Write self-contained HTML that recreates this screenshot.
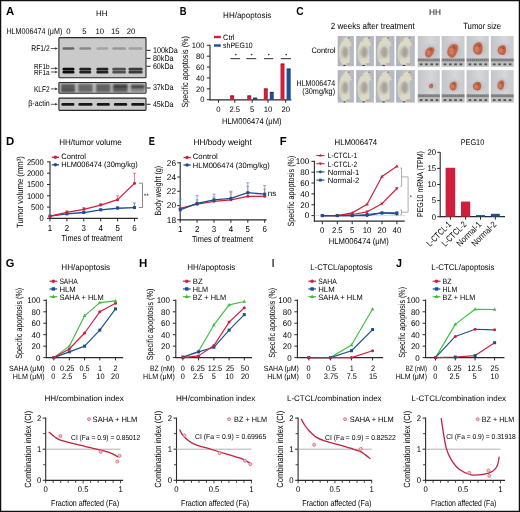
<!DOCTYPE html>
<html><head><meta charset="utf-8"><style>
html,body{margin:0;padding:0;background:#fff;overflow:hidden;}
svg{display:block;font-family:"Liberation Sans",sans-serif;text-rendering:geometricPrecision;will-change:transform;}

</style></head><body>
<svg width="520" height="512" viewBox="0 0 520 512">
<rect x="0" y="0" width="520" height="512" fill="#fff"/>
<defs><filter id="bl" x="-30%" y="-60%" width="160%" height="220%"><feGaussianBlur stdDeviation="0.55"/></filter><filter id="bl1" x="-30%" y="-60%" width="160%" height="220%"><feGaussianBlur stdDeviation="0.8"/></filter><filter id="bl2" x="-30%" y="-60%" width="160%" height="220%"><feGaussianBlur stdDeviation="1.1"/></filter><filter id="bl3" x="-30%" y="-30%" width="160%" height="160%"><feGaussianBlur stdDeviation="0.35"/></filter><linearGradient id="tbg" x1="0" y1="0" x2="1" y2="0"><stop offset="0" stop-color="#c2c4c8"/><stop offset="0.6" stop-color="#d6d7da"/><stop offset="1" stop-color="#c8c9cd"/></linearGradient><linearGradient id="mbg" x1="0" y1="0" x2="1" y2="0"><stop offset="0" stop-color="#aeb2be"/><stop offset="0.5" stop-color="#bcc0ca"/><stop offset="1" stop-color="#b4b8c4"/></linearGradient></defs>
<text x="5.90" y="14.50" font-size="11.5" textLength="8.20" lengthAdjust="spacingAndGlyphs" fill="#000" font-weight="bold" >A</text>
<text x="96.00" y="16.10" font-size="7.9" >HH</text>
<text x="6.40" y="33.60" font-size="8.3" textLength="55.90" lengthAdjust="spacingAndGlyphs" >HLM006474 (μM)</text>
<text x="68.50" y="33.60" font-size="8.0" text-anchor="middle" textLength="4.30" lengthAdjust="spacingAndGlyphs" >0</text>
<text x="84.40" y="33.60" font-size="8.0" text-anchor="middle" textLength="4.30" lengthAdjust="spacingAndGlyphs" >5</text>
<text x="99.70" y="33.60" font-size="8.0" text-anchor="middle" textLength="8.60" lengthAdjust="spacingAndGlyphs" >10</text>
<text x="115.30" y="33.60" font-size="8.0" text-anchor="middle" textLength="8.60" lengthAdjust="spacingAndGlyphs" >15</text>
<text x="131.10" y="33.60" font-size="8.0" text-anchor="middle" textLength="8.60" lengthAdjust="spacingAndGlyphs" >20</text>
<rect x="58.9" y="37.60" width="87.1" height="40.20" fill="#cacaca" stroke="#262626" stroke-width="1.1" rx="0.8"/>
<rect x="58.9" y="82.50" width="87.1" height="10.80" fill="#cacaca" stroke="#262626" stroke-width="1.1" rx="0.8"/>
<rect x="58.9" y="98.10" width="87.1" height="12.30" fill="#cacaca" stroke="#262626" stroke-width="1.1" rx="0.8"/>
<g filter="url(#bl)">
<rect x="62.50" y="47.30" width="11.90" height="2.50" fill="#6a6a6a" rx="1.2"/>
<rect x="79.30" y="47.30" width="11.90" height="2.50" fill="#8a8a8a" rx="1.2"/>
<rect x="96.40" y="47.30" width="12.00" height="2.50" fill="#a4a4a4" rx="1.2"/>
<rect x="112.30" y="47.30" width="13.60" height="2.50" fill="#989898" rx="1.2"/>
<rect x="128.50" y="47.30" width="14.10" height="2.50" fill="#a0a0a0" rx="1.2"/>
<rect x="62.50" y="67.70" width="11.90" height="2.70" fill="#101010" rx="1.2"/>
<rect x="62.50" y="70.70" width="11.90" height="2.70" fill="#101010" rx="1.2"/>
<rect x="79.30" y="67.70" width="11.90" height="2.70" fill="#242424" rx="1.2"/>
<rect x="79.30" y="70.70" width="11.90" height="2.70" fill="#242424" rx="1.2"/>
<rect x="96.40" y="67.70" width="12.00" height="2.70" fill="#242424" rx="1.2"/>
<rect x="96.40" y="70.70" width="12.00" height="2.70" fill="#242424" rx="1.2"/>
<rect x="112.30" y="67.70" width="13.60" height="2.70" fill="#505050" rx="1.2"/>
<rect x="112.30" y="70.70" width="13.60" height="2.70" fill="#505050" rx="1.2"/>
<rect x="128.50" y="67.70" width="14.10" height="2.70" fill="#3a3a3a" rx="1.2"/>
<rect x="128.50" y="70.70" width="14.10" height="2.70" fill="#3a3a3a" rx="1.2"/>
<rect x="61.40" y="103.10" width="13.00" height="2.60" fill="#181818" rx="1.2"/>
<rect x="78.40" y="103.10" width="14.10" height="2.60" fill="#181818" rx="1.2"/>
<rect x="96.70" y="103.10" width="13.10" height="2.60" fill="#181818" rx="1.2"/>
<rect x="113.90" y="103.10" width="13.30" height="2.60" fill="#181818" rx="1.2"/>
<rect x="131.20" y="103.10" width="13.40" height="2.60" fill="#181818" rx="1.2"/>
</g>
<g filter="url(#bl1)">
<rect x="60.80" y="83.80" width="14.40" height="8.60" fill="#5a5a5a" />
<rect x="78.00" y="83.80" width="14.80" height="8.60" fill="#686868" />
<rect x="95.80" y="83.80" width="14.80" height="8.60" fill="#626262" />
<rect x="112.80" y="83.80" width="15.00" height="8.60" fill="#5c5c5c" />
<rect x="130.40" y="83.80" width="14.40" height="8.60" fill="#8a8a8a" />
<rect x="113.00" y="85.00" width="14.50" height="3.00" fill="#3a3a3a" />
<rect x="131.00" y="85.40" width="13.50" height="2.80" fill="#2a2a2a" />
<rect x="60.80" y="89.50" width="14.40" height="2.50" fill="#4a4a4a" />
</g>
<text x="31.30" y="50.70" font-size="8.2" textLength="18.40" lengthAdjust="spacingAndGlyphs" >RF1/2</text>
<line x1="50.80" y1="48.50" x2="55.80" y2="48.50" stroke="#333" stroke-width="0.8" />
<polygon points="57.9,48.50 55.2,47.20 55.2,49.80" fill="#333"/>
<text x="33.90" y="69.00" font-size="7.4" textLength="15.80" lengthAdjust="spacingAndGlyphs" >RF1b</text>
<line x1="50.80" y1="68.40" x2="55.80" y2="68.40" stroke="#333" stroke-width="0.8" />
<polygon points="57.9,68.40 55.2,67.10 55.2,69.70" fill="#333"/>
<text x="33.90" y="75.40" font-size="7.4" textLength="15.80" lengthAdjust="spacingAndGlyphs" >RF1a</text>
<line x1="50.80" y1="72.00" x2="55.80" y2="72.00" stroke="#333" stroke-width="0.8" />
<polygon points="57.9,72.00 55.2,70.70 55.2,73.30" fill="#333"/>
<text x="33.90" y="91.50" font-size="8.2" textLength="15.80" lengthAdjust="spacingAndGlyphs" >KLF2</text>
<line x1="50.80" y1="88.90" x2="55.80" y2="88.90" stroke="#333" stroke-width="0.8" />
<polygon points="57.9,88.90 55.2,87.60 55.2,90.20" fill="#333"/>
<text x="28.30" y="106.00" font-size="8.2" textLength="21.40" lengthAdjust="spacingAndGlyphs" >β-actin</text>
<line x1="50.80" y1="104.30" x2="55.80" y2="104.30" stroke="#333" stroke-width="0.8" />
<polygon points="57.9,104.30 55.2,103.00 55.2,105.60" fill="#333"/>
<line x1="146.60" y1="50.40" x2="150.60" y2="50.40" stroke="#333" stroke-width="1.1" />
<text x="152.90" y="52.70" font-size="8.3" textLength="24.80" lengthAdjust="spacingAndGlyphs" >100kDa</text>
<line x1="146.60" y1="58.40" x2="150.60" y2="58.40" stroke="#333" stroke-width="1.1" />
<text x="152.90" y="60.80" font-size="8.3" textLength="20.60" lengthAdjust="spacingAndGlyphs" >80kDa</text>
<line x1="146.60" y1="66.30" x2="150.60" y2="66.30" stroke="#333" stroke-width="1.1" />
<text x="152.90" y="68.60" font-size="8.3" textLength="20.60" lengthAdjust="spacingAndGlyphs" >60kDa</text>
<line x1="146.60" y1="88.00" x2="150.60" y2="88.00" stroke="#333" stroke-width="1.1" />
<text x="152.90" y="90.40" font-size="8.3" textLength="20.60" lengthAdjust="spacingAndGlyphs" >37kDa</text>
<line x1="146.60" y1="104.30" x2="150.60" y2="104.30" stroke="#333" stroke-width="1.1" />
<text x="152.90" y="106.60" font-size="8.3" textLength="20.60" lengthAdjust="spacingAndGlyphs" >45kDa</text>
<text x="179.70" y="14.60" font-size="11.5" textLength="6.80" lengthAdjust="spacingAndGlyphs" fill="#000" font-weight="bold" >B</text>
<text x="223.10" y="17.80" font-size="8.2" textLength="48.10" lengthAdjust="spacingAndGlyphs" >HH/apoptosis</text>
<rect x="214.00" y="35.80" width="6.80" height="2.40" fill="#d01f3c" />
<text x="223.10" y="39.70" font-size="7.8" textLength="11.40" lengthAdjust="spacingAndGlyphs" >Ctrl</text>
<rect x="214.00" y="44.30" width="6.80" height="2.40" fill="#1c4f8f" />
<text x="223.10" y="47.50" font-size="7.8" textLength="29.60" lengthAdjust="spacingAndGlyphs" >shPEG10</text>
<line x1="210.00" y1="44.80" x2="210.00" y2="100.30" stroke="#2a2a2a" stroke-width="1.1" />
<line x1="209.50" y1="99.90" x2="291.40" y2="99.90" stroke="#2a2a2a" stroke-width="1.2" />
<line x1="206.80" y1="99.70" x2="210.00" y2="99.70" stroke="#2a2a2a" stroke-width="1.0" />
<text x="204.40" y="102.40" font-size="8.0" text-anchor="end" textLength="4.20" lengthAdjust="spacingAndGlyphs" >0</text>
<line x1="206.80" y1="88.82" x2="210.00" y2="88.82" stroke="#2a2a2a" stroke-width="1.0" />
<text x="204.40" y="91.52" font-size="8.0" text-anchor="end" textLength="8.40" lengthAdjust="spacingAndGlyphs" >20</text>
<line x1="206.80" y1="77.94" x2="210.00" y2="77.94" stroke="#2a2a2a" stroke-width="1.0" />
<text x="204.40" y="80.64" font-size="8.0" text-anchor="end" textLength="8.40" lengthAdjust="spacingAndGlyphs" >40</text>
<line x1="206.80" y1="67.06" x2="210.00" y2="67.06" stroke="#2a2a2a" stroke-width="1.0" />
<text x="204.40" y="69.76" font-size="8.0" text-anchor="end" textLength="8.40" lengthAdjust="spacingAndGlyphs" >60</text>
<line x1="206.80" y1="56.18" x2="210.00" y2="56.18" stroke="#2a2a2a" stroke-width="1.0" />
<text x="204.40" y="58.88" font-size="8.0" text-anchor="end" textLength="8.40" lengthAdjust="spacingAndGlyphs" >80</text>
<line x1="206.80" y1="45.30" x2="210.00" y2="45.30" stroke="#2a2a2a" stroke-width="1.0" />
<text x="204.40" y="48.00" font-size="8.0" text-anchor="end" textLength="12.60" lengthAdjust="spacingAndGlyphs" >100</text>
<line x1="218.50" y1="100.00" x2="218.50" y2="102.80" stroke="#2a2a2a" stroke-width="1.0" />
<text x="218.50" y="112.00" font-size="8.0" text-anchor="middle" textLength="4.30" lengthAdjust="spacingAndGlyphs" >0</text>
<line x1="234.80" y1="100.00" x2="234.80" y2="102.80" stroke="#2a2a2a" stroke-width="1.0" />
<text x="234.80" y="112.00" font-size="8.0" text-anchor="middle" textLength="10.60" lengthAdjust="spacingAndGlyphs" >2.5</text>
<line x1="252.20" y1="100.00" x2="252.20" y2="102.80" stroke="#2a2a2a" stroke-width="1.0" />
<text x="252.20" y="112.00" font-size="8.0" text-anchor="middle" textLength="4.30" lengthAdjust="spacingAndGlyphs" >5</text>
<line x1="268.00" y1="100.00" x2="268.00" y2="102.80" stroke="#2a2a2a" stroke-width="1.0" />
<text x="268.00" y="112.00" font-size="8.0" text-anchor="middle" textLength="8.60" lengthAdjust="spacingAndGlyphs" >10</text>
<line x1="285.70" y1="100.00" x2="285.70" y2="102.80" stroke="#2a2a2a" stroke-width="1.0" />
<text x="285.70" y="112.00" font-size="8.0" text-anchor="middle" textLength="8.60" lengthAdjust="spacingAndGlyphs" >20</text>
<rect x="230.10" y="95.60" width="4.10" height="4.30" fill="#d01f3c" />
<line x1="230.40" y1="95.90" x2="233.90" y2="95.90" stroke="#5a1420" stroke-width="0.8" />
<rect x="247.20" y="95.60" width="4.00" height="4.30" fill="#d01f3c" />
<line x1="247.50" y1="95.90" x2="250.90" y2="95.90" stroke="#5a1420" stroke-width="0.8" />
<rect x="253.00" y="97.80" width="4.30" height="2.10" fill="#1c4f8f" />
<line x1="253.30" y1="98.10" x2="257.00" y2="98.10" stroke="#10284a" stroke-width="0.8" />
<rect x="263.80" y="88.60" width="4.00" height="11.30" fill="#d01f3c" />
<line x1="264.10" y1="88.90" x2="267.50" y2="88.90" stroke="#5a1420" stroke-width="0.8" />
<rect x="269.80" y="92.00" width="3.90" height="7.90" fill="#1c4f8f" />
<line x1="270.10" y1="92.30" x2="273.40" y2="92.30" stroke="#10284a" stroke-width="0.8" />
<rect x="280.50" y="63.70" width="4.00" height="36.20" fill="#d01f3c" />
<line x1="280.80" y1="64.00" x2="284.20" y2="64.00" stroke="#5a1420" stroke-width="0.8" />
<rect x="286.60" y="68.70" width="4.10" height="31.20" fill="#1c4f8f" />
<line x1="286.90" y1="69.00" x2="290.40" y2="69.00" stroke="#10284a" stroke-width="0.8" />
<line x1="230.40" y1="58.60" x2="240.10" y2="58.60" stroke="#505050" stroke-width="1.2" />
<circle cx="235.80" cy="54.5" r="0.85" fill="#333"/>
<line x1="246.30" y1="58.60" x2="256.20" y2="58.60" stroke="#505050" stroke-width="1.2" />
<circle cx="251.60" cy="54.5" r="0.85" fill="#333"/>
<line x1="264.00" y1="58.60" x2="273.20" y2="58.60" stroke="#505050" stroke-width="1.2" />
<circle cx="268.70" cy="54.5" r="0.85" fill="#333"/>
<line x1="280.90" y1="58.60" x2="291.00" y2="58.60" stroke="#505050" stroke-width="1.2" />
<circle cx="286.20" cy="54.5" r="0.85" fill="#333"/>
<text x="188.39" y="71.85" font-size="9.0" text-anchor="middle" textLength="71.50" lengthAdjust="spacingAndGlyphs" transform="rotate(-90 188.39 71.85)" >Specific apoptosis (%)</text>
<text x="222.10" y="123.50" font-size="8.5" textLength="59.50" lengthAdjust="spacingAndGlyphs" >HLM006474 (μM)</text>
<text x="296.30" y="15.00" font-size="11.5" textLength="7.40" lengthAdjust="spacingAndGlyphs" fill="#000" font-weight="bold" >C</text>
<text x="428.90" y="14.80" font-size="8.3" >HH</text>
<text x="330.70" y="28.60" font-size="9.0" textLength="84.00" lengthAdjust="spacingAndGlyphs" >2 weeks after treatment</text>
<text x="463.20" y="28.60" font-size="9.0" textLength="37.90" lengthAdjust="spacingAndGlyphs" >Tumor size</text>
<text x="311.40" y="52.90" font-size="8.0" textLength="24.10" lengthAdjust="spacingAndGlyphs" >Control</text>
<text x="296.60" y="85.60" font-size="8.3" textLength="38.50" lengthAdjust="spacingAndGlyphs" >HLM006474</text>
<text x="302.30" y="94.00" font-size="8.3" textLength="32.80" lengthAdjust="spacingAndGlyphs" >(30mg/kg)</text>
<rect x="337.70" y="36.00" width="16.20" height="30.20" fill="url(#mbg)"/>
<path d="M 342.56,40.23 C 344.50,37.81 346.61,36.60 348.39,37.21 C 349.69,38.11 349.36,40.23 349.04,41.44 C 350.66,42.04 352.60,43.25 352.28,44.76 C 351.63,45.66 350.01,45.06 349.36,46.27 C 349.04,51.10 350.01,57.74 349.69,61.97 C 349.36,64.69 346.61,65.29 343.53,64.99 C 340.29,63.18 338.67,57.14 339.00,51.70 C 339.32,46.87 340.62,42.64 342.56,40.23 Z" fill="#dadac6" filter="url(#bl3)"/>
<ellipse cx="340.62" cy="54.72" rx="1.30" ry="6.04" fill="#c4c4b0" opacity="0.7" filter="url(#bl1)"/>
<ellipse cx="345.15" cy="52.31" rx="3.08" ry="5.74" fill="#9a9090" opacity="0.75" filter="url(#bl1)"/>
<ellipse cx="348.39" cy="64.09" rx="2.59" ry="0.76" fill="#c8a08c" filter="url(#bl)"/>
<ellipse cx="344.50" cy="65.45" rx="1.30" ry="0.60" fill="#404040" filter="url(#bl)"/>
<ellipse cx="341.91" cy="40.53" rx="1.62" ry="0.91" fill="#d8b498" filter="url(#bl)"/>
<ellipse cx="348.72" cy="38.11" rx="1.13" ry="1.06" fill="#a8948a" filter="url(#bl)"/>
<ellipse cx="351.96" cy="43.85" rx="1.30" ry="0.76" fill="#d0a488" filter="url(#bl)"/>
<rect x="356.20" y="36.00" width="17.70" height="30.20" fill="url(#mbg)"/>
<path d="M 362.39,40.23 C 364.52,37.81 366.82,36.60 368.77,37.21 C 370.18,38.11 369.83,40.23 368.59,41.44 C 370.36,42.04 372.48,43.25 372.13,44.76 C 371.42,45.66 369.65,45.06 368.94,46.27 C 368.59,51.10 369.65,57.74 369.30,61.97 C 368.94,64.69 365.94,65.29 362.57,64.99 C 359.03,63.18 357.26,57.14 357.62,51.70 C 357.97,46.87 359.39,42.64 362.39,40.23 Z" fill="#dadac6" filter="url(#bl3)"/>
<ellipse cx="359.39" cy="54.72" rx="1.42" ry="6.04" fill="#c4c4b0" opacity="0.7" filter="url(#bl1)"/>
<ellipse cx="364.34" cy="52.31" rx="3.36" ry="5.74" fill="#9a9090" opacity="0.75" filter="url(#bl1)"/>
<ellipse cx="367.88" cy="64.09" rx="2.83" ry="0.76" fill="#c8a08c" filter="url(#bl)"/>
<ellipse cx="363.63" cy="65.45" rx="1.42" ry="0.60" fill="#404040" filter="url(#bl)"/>
<ellipse cx="361.69" cy="40.53" rx="1.77" ry="0.91" fill="#d8b498" filter="url(#bl)"/>
<ellipse cx="369.12" cy="38.11" rx="1.24" ry="1.06" fill="#a8948a" filter="url(#bl)"/>
<ellipse cx="371.78" cy="43.85" rx="1.42" ry="0.76" fill="#d0a488" filter="url(#bl)"/>
<rect x="375.80" y="36.00" width="18.60" height="30.20" fill="url(#mbg)"/>
<path d="M 381.01,40.23 C 383.24,37.81 385.66,36.60 387.70,37.21 C 389.19,38.11 388.82,40.23 388.82,41.44 C 390.68,42.04 392.91,43.25 392.54,44.76 C 391.80,45.66 389.94,45.06 389.19,46.27 C 388.82,51.10 389.94,57.74 389.56,61.97 C 389.19,64.69 386.03,65.29 382.50,64.99 C 378.78,63.18 376.92,57.14 377.29,51.70 C 377.66,46.87 379.15,42.64 381.01,40.23 Z" fill="#dadac6" filter="url(#bl3)"/>
<ellipse cx="379.15" cy="54.72" rx="1.49" ry="6.04" fill="#c4c4b0" opacity="0.7" filter="url(#bl1)"/>
<ellipse cx="384.36" cy="52.31" rx="3.53" ry="5.74" fill="#9a9090" opacity="0.75" filter="url(#bl1)"/>
<ellipse cx="388.08" cy="64.09" rx="2.98" ry="0.76" fill="#c8a08c" filter="url(#bl)"/>
<ellipse cx="383.61" cy="65.45" rx="1.49" ry="0.60" fill="#404040" filter="url(#bl)"/>
<ellipse cx="380.26" cy="40.53" rx="1.86" ry="0.91" fill="#d8b498" filter="url(#bl)"/>
<ellipse cx="388.08" cy="38.11" rx="1.30" ry="1.06" fill="#a8948a" filter="url(#bl)"/>
<ellipse cx="392.17" cy="43.85" rx="1.49" ry="0.76" fill="#d0a488" filter="url(#bl)"/>
<rect x="396.10" y="36.00" width="18.70" height="30.20" fill="url(#mbg)"/>
<path d="M 402.46,40.23 C 404.70,37.81 407.13,36.60 409.19,37.21 C 410.69,38.11 410.31,40.23 409.19,41.44 C 411.06,42.04 413.30,43.25 412.93,44.76 C 412.18,45.66 410.31,45.06 409.56,46.27 C 409.19,51.10 410.31,57.74 409.94,61.97 C 409.56,64.69 406.38,65.29 402.83,64.99 C 399.09,63.18 397.22,57.14 397.60,51.70 C 397.97,46.87 399.47,42.64 402.46,40.23 Z" fill="#dadac6" filter="url(#bl3)"/>
<ellipse cx="399.47" cy="54.72" rx="1.50" ry="6.04" fill="#c4c4b0" opacity="0.7" filter="url(#bl1)"/>
<ellipse cx="404.70" cy="52.31" rx="3.55" ry="5.74" fill="#9a9090" opacity="0.75" filter="url(#bl1)"/>
<ellipse cx="408.44" cy="64.09" rx="2.99" ry="0.76" fill="#c8a08c" filter="url(#bl)"/>
<ellipse cx="403.95" cy="65.45" rx="1.50" ry="0.60" fill="#404040" filter="url(#bl)"/>
<ellipse cx="401.71" cy="40.53" rx="1.87" ry="0.91" fill="#d8b498" filter="url(#bl)"/>
<ellipse cx="409.56" cy="38.11" rx="1.31" ry="1.06" fill="#a8948a" filter="url(#bl)"/>
<ellipse cx="412.56" cy="43.85" rx="1.50" ry="0.76" fill="#d0a488" filter="url(#bl)"/>
<rect x="337.70" y="70.10" width="16.20" height="32.50" fill="url(#mbg)"/>
<path d="M 342.56,74.65 C 344.50,72.05 346.61,70.75 348.39,71.40 C 349.69,72.38 349.36,74.65 349.04,75.95 C 350.66,76.60 352.60,77.90 352.28,79.52 C 351.63,80.50 350.01,79.85 349.36,81.15 C 349.04,86.35 350.01,93.50 349.69,98.05 C 349.36,100.97 346.61,101.62 343.53,101.30 C 340.29,99.35 338.67,92.85 339.00,87.00 C 339.32,81.80 340.62,77.25 342.56,74.65 Z" fill="#dadac6" filter="url(#bl3)"/>
<ellipse cx="340.62" cy="90.25" rx="1.30" ry="6.50" fill="#c4c4b0" opacity="0.7" filter="url(#bl1)"/>
<ellipse cx="345.15" cy="87.65" rx="3.08" ry="6.17" fill="#9a9090" opacity="0.75" filter="url(#bl1)"/>
<ellipse cx="348.39" cy="100.32" rx="2.59" ry="0.81" fill="#c8a08c" filter="url(#bl)"/>
<ellipse cx="344.50" cy="101.79" rx="1.30" ry="0.65" fill="#404040" filter="url(#bl)"/>
<ellipse cx="341.91" cy="74.97" rx="1.62" ry="0.97" fill="#d8b498" filter="url(#bl)"/>
<ellipse cx="348.72" cy="72.38" rx="1.13" ry="1.14" fill="#a8948a" filter="url(#bl)"/>
<ellipse cx="351.96" cy="78.55" rx="1.30" ry="0.81" fill="#d0a488" filter="url(#bl)"/>
<rect x="356.20" y="70.10" width="17.70" height="32.50" fill="url(#mbg)"/>
<path d="M 362.39,74.65 C 364.52,72.05 366.82,70.75 368.77,71.40 C 370.18,72.38 369.83,74.65 368.59,75.95 C 370.36,76.60 372.48,77.90 372.13,79.52 C 371.42,80.50 369.65,79.85 368.94,81.15 C 368.59,86.35 369.65,93.50 369.30,98.05 C 368.94,100.97 365.94,101.62 362.57,101.30 C 359.03,99.35 357.26,92.85 357.62,87.00 C 357.97,81.80 359.39,77.25 362.39,74.65 Z" fill="#dadac6" filter="url(#bl3)"/>
<ellipse cx="359.39" cy="90.25" rx="1.42" ry="6.50" fill="#c4c4b0" opacity="0.7" filter="url(#bl1)"/>
<ellipse cx="364.34" cy="87.65" rx="3.36" ry="6.17" fill="#9a9090" opacity="0.75" filter="url(#bl1)"/>
<ellipse cx="367.88" cy="100.32" rx="2.83" ry="0.81" fill="#c8a08c" filter="url(#bl)"/>
<ellipse cx="363.63" cy="101.79" rx="1.42" ry="0.65" fill="#404040" filter="url(#bl)"/>
<ellipse cx="361.69" cy="74.97" rx="1.77" ry="0.97" fill="#d8b498" filter="url(#bl)"/>
<ellipse cx="369.12" cy="72.38" rx="1.24" ry="1.14" fill="#a8948a" filter="url(#bl)"/>
<ellipse cx="371.78" cy="78.55" rx="1.42" ry="0.81" fill="#d0a488" filter="url(#bl)"/>
<rect x="375.80" y="70.10" width="18.60" height="32.50" fill="url(#mbg)"/>
<path d="M 381.01,74.65 C 383.24,72.05 385.66,70.75 387.70,71.40 C 389.19,72.38 388.82,74.65 388.82,75.95 C 390.68,76.60 392.91,77.90 392.54,79.52 C 391.80,80.50 389.94,79.85 389.19,81.15 C 388.82,86.35 389.94,93.50 389.56,98.05 C 389.19,100.97 386.03,101.62 382.50,101.30 C 378.78,99.35 376.92,92.85 377.29,87.00 C 377.66,81.80 379.15,77.25 381.01,74.65 Z" fill="#dadac6" filter="url(#bl3)"/>
<ellipse cx="379.15" cy="90.25" rx="1.49" ry="6.50" fill="#c4c4b0" opacity="0.7" filter="url(#bl1)"/>
<ellipse cx="384.36" cy="87.65" rx="3.53" ry="6.17" fill="#9a9090" opacity="0.75" filter="url(#bl1)"/>
<ellipse cx="388.08" cy="100.32" rx="2.98" ry="0.81" fill="#c8a08c" filter="url(#bl)"/>
<ellipse cx="383.61" cy="101.79" rx="1.49" ry="0.65" fill="#404040" filter="url(#bl)"/>
<ellipse cx="380.26" cy="74.97" rx="1.86" ry="0.97" fill="#d8b498" filter="url(#bl)"/>
<ellipse cx="388.08" cy="72.38" rx="1.30" ry="1.14" fill="#a8948a" filter="url(#bl)"/>
<ellipse cx="392.17" cy="78.55" rx="1.49" ry="0.81" fill="#d0a488" filter="url(#bl)"/>
<rect x="396.10" y="70.10" width="18.70" height="32.50" fill="url(#mbg)"/>
<path d="M 402.46,74.65 C 404.70,72.05 407.13,70.75 409.19,71.40 C 410.69,72.38 410.31,74.65 409.19,75.95 C 411.06,76.60 413.30,77.90 412.93,79.52 C 412.18,80.50 410.31,79.85 409.56,81.15 C 409.19,86.35 410.31,93.50 409.94,98.05 C 409.56,100.97 406.38,101.62 402.83,101.30 C 399.09,99.35 397.22,92.85 397.60,87.00 C 397.97,81.80 399.47,77.25 402.46,74.65 Z" fill="#dadac6" filter="url(#bl3)"/>
<ellipse cx="399.47" cy="90.25" rx="1.50" ry="6.50" fill="#c4c4b0" opacity="0.7" filter="url(#bl1)"/>
<ellipse cx="404.70" cy="87.65" rx="3.55" ry="6.17" fill="#9a9090" opacity="0.75" filter="url(#bl1)"/>
<ellipse cx="408.44" cy="100.32" rx="2.99" ry="0.81" fill="#c8a08c" filter="url(#bl)"/>
<ellipse cx="403.95" cy="101.79" rx="1.50" ry="0.65" fill="#404040" filter="url(#bl)"/>
<ellipse cx="401.71" cy="74.97" rx="1.87" ry="0.97" fill="#d8b498" filter="url(#bl)"/>
<ellipse cx="409.56" cy="72.38" rx="1.31" ry="1.14" fill="#a8948a" filter="url(#bl)"/>
<ellipse cx="412.56" cy="78.55" rx="1.50" ry="0.81" fill="#d0a488" filter="url(#bl)"/>
<rect x="417.80" y="36.00" width="22.00" height="30.60" fill="url(#tbg)"/>
<rect x="417.80" y="58.60" width="22.00" height="3.00" fill="#767676" />
<rect x="418.60" y="59.20" width="0.50" height="1.80" fill="#a8a8a8" />
<rect x="420.60" y="59.20" width="0.50" height="1.80" fill="#a8a8a8" />
<rect x="422.60" y="59.20" width="0.50" height="1.80" fill="#a8a8a8" />
<rect x="424.60" y="59.20" width="0.50" height="1.80" fill="#a8a8a8" />
<rect x="426.60" y="59.20" width="0.50" height="1.80" fill="#a8a8a8" />
<rect x="428.60" y="59.20" width="0.50" height="1.80" fill="#a8a8a8" />
<rect x="430.60" y="59.20" width="0.50" height="1.80" fill="#a8a8a8" />
<rect x="432.60" y="59.20" width="0.50" height="1.80" fill="#a8a8a8" />
<rect x="434.60" y="59.20" width="0.50" height="1.80" fill="#a8a8a8" />
<rect x="436.60" y="59.20" width="0.50" height="1.80" fill="#a8a8a8" />
<rect x="438.60" y="59.20" width="0.50" height="1.80" fill="#a8a8a8" />
<rect x="417.80" y="61.60" width="22.00" height="5.00" fill="#bebebe" />
<rect x="419.80" y="63.40" width="2.60" height="1.80" fill="#4e4e4e" filter="url(#bl3)"/>
<rect x="425.10" y="63.40" width="2.60" height="1.80" fill="#4e4e4e" filter="url(#bl3)"/>
<rect x="430.40" y="63.40" width="2.60" height="1.80" fill="#4e4e4e" filter="url(#bl3)"/>
<rect x="435.70" y="63.40" width="2.60" height="1.80" fill="#4e4e4e" filter="url(#bl3)"/>
<ellipse cx="430.70" cy="52.00" rx="6.30" ry="7.50" fill="#b4b4b8" opacity="0.5" filter="url(#bl2)"/>
<path d="M 425.63 53.20 C 425.20 48.40 428.64 45.70 431.65 46.60 C 434.23 48.40 433.80 55.00 432.08 57.10 C 429.93 58.60 426.06 57.40 425.63 53.20 Z" fill="#c26444" transform="rotate(30 429.5 52)" filter="url(#bl3)"/>
<ellipse cx="428.64" cy="52.60" rx="1.94" ry="2.70" fill="#dc9472" opacity="0.55" filter="url(#bl)"/>
<ellipse cx="430.79" cy="49.60" rx="1.29" ry="1.50" fill="#a84a30" opacity="0.6" filter="url(#bl)"/>
<rect x="441.70" y="36.00" width="22.80" height="30.60" fill="url(#tbg)"/>
<rect x="441.70" y="58.60" width="22.80" height="3.00" fill="#767676" />
<rect x="442.50" y="59.20" width="0.50" height="1.80" fill="#a8a8a8" />
<rect x="444.50" y="59.20" width="0.50" height="1.80" fill="#a8a8a8" />
<rect x="446.50" y="59.20" width="0.50" height="1.80" fill="#a8a8a8" />
<rect x="448.50" y="59.20" width="0.50" height="1.80" fill="#a8a8a8" />
<rect x="450.50" y="59.20" width="0.50" height="1.80" fill="#a8a8a8" />
<rect x="452.50" y="59.20" width="0.50" height="1.80" fill="#a8a8a8" />
<rect x="454.50" y="59.20" width="0.50" height="1.80" fill="#a8a8a8" />
<rect x="456.50" y="59.20" width="0.50" height="1.80" fill="#a8a8a8" />
<rect x="458.50" y="59.20" width="0.50" height="1.80" fill="#a8a8a8" />
<rect x="460.50" y="59.20" width="0.50" height="1.80" fill="#a8a8a8" />
<rect x="462.50" y="59.20" width="0.50" height="1.80" fill="#a8a8a8" />
<rect x="441.70" y="61.60" width="22.80" height="5.00" fill="#bebebe" />
<rect x="443.70" y="63.40" width="2.60" height="1.80" fill="#4e4e4e" filter="url(#bl3)"/>
<rect x="449.00" y="63.40" width="2.60" height="1.80" fill="#4e4e4e" filter="url(#bl3)"/>
<rect x="454.30" y="63.40" width="2.60" height="1.80" fill="#4e4e4e" filter="url(#bl3)"/>
<rect x="459.60" y="63.40" width="2.60" height="1.80" fill="#4e4e4e" filter="url(#bl3)"/>
<ellipse cx="453.70" cy="50.50" rx="7.30" ry="9.00" fill="#b4b4b8" opacity="0.5" filter="url(#bl2)"/>
<path d="M 447.73 52.00 C 447.20 46.00 451.44 42.62 455.15 43.75 C 458.33 46.00 457.80 54.25 455.68 56.88 C 453.03 58.75 448.26 57.25 447.73 52.00 Z" fill="#c26444" transform="rotate(20 452.5 50.5)" filter="url(#bl3)"/>
<ellipse cx="451.44" cy="51.25" rx="2.38" ry="3.38" fill="#dc9472" opacity="0.55" filter="url(#bl)"/>
<ellipse cx="454.09" cy="47.50" rx="1.59" ry="1.88" fill="#a84a30" opacity="0.6" filter="url(#bl)"/>
<rect x="466.60" y="36.00" width="22.10" height="30.60" fill="url(#tbg)"/>
<rect x="466.60" y="58.60" width="22.10" height="3.00" fill="#767676" />
<rect x="467.40" y="59.20" width="0.50" height="1.80" fill="#a8a8a8" />
<rect x="469.40" y="59.20" width="0.50" height="1.80" fill="#a8a8a8" />
<rect x="471.40" y="59.20" width="0.50" height="1.80" fill="#a8a8a8" />
<rect x="473.40" y="59.20" width="0.50" height="1.80" fill="#a8a8a8" />
<rect x="475.40" y="59.20" width="0.50" height="1.80" fill="#a8a8a8" />
<rect x="477.40" y="59.20" width="0.50" height="1.80" fill="#a8a8a8" />
<rect x="479.40" y="59.20" width="0.50" height="1.80" fill="#a8a8a8" />
<rect x="481.40" y="59.20" width="0.50" height="1.80" fill="#a8a8a8" />
<rect x="483.40" y="59.20" width="0.50" height="1.80" fill="#a8a8a8" />
<rect x="485.40" y="59.20" width="0.50" height="1.80" fill="#a8a8a8" />
<rect x="487.40" y="59.20" width="0.50" height="1.80" fill="#a8a8a8" />
<rect x="466.60" y="61.60" width="22.10" height="5.00" fill="#bebebe" />
<rect x="468.60" y="63.40" width="2.60" height="1.80" fill="#4e4e4e" filter="url(#bl3)"/>
<rect x="473.90" y="63.40" width="2.60" height="1.80" fill="#4e4e4e" filter="url(#bl3)"/>
<rect x="479.20" y="63.40" width="2.60" height="1.80" fill="#4e4e4e" filter="url(#bl3)"/>
<rect x="484.50" y="63.40" width="2.60" height="1.80" fill="#4e4e4e" filter="url(#bl3)"/>
<ellipse cx="479.00" cy="48.50" rx="7.20" ry="8.10" fill="#b4b4b8" opacity="0.5" filter="url(#bl2)"/>
<path d="M 473.12 49.82 C 472.60 44.54 476.76 41.57 480.40 42.56 C 483.52 44.54 483.00 51.80 480.92 54.11 C 478.32 55.76 473.64 54.44 473.12 49.82 Z" fill="#c26444" transform="rotate(0 477.8 48.5)" filter="url(#bl3)"/>
<ellipse cx="476.76" cy="49.16" rx="2.34" ry="2.97" fill="#dc9472" opacity="0.55" filter="url(#bl)"/>
<ellipse cx="479.36" cy="45.86" rx="1.56" ry="1.65" fill="#a84a30" opacity="0.6" filter="url(#bl)"/>
<rect x="490.90" y="36.00" width="22.70" height="30.60" fill="url(#tbg)"/>
<rect x="490.90" y="58.60" width="22.70" height="3.00" fill="#767676" />
<rect x="491.70" y="59.20" width="0.50" height="1.80" fill="#a8a8a8" />
<rect x="493.70" y="59.20" width="0.50" height="1.80" fill="#a8a8a8" />
<rect x="495.70" y="59.20" width="0.50" height="1.80" fill="#a8a8a8" />
<rect x="497.70" y="59.20" width="0.50" height="1.80" fill="#a8a8a8" />
<rect x="499.70" y="59.20" width="0.50" height="1.80" fill="#a8a8a8" />
<rect x="501.70" y="59.20" width="0.50" height="1.80" fill="#a8a8a8" />
<rect x="503.70" y="59.20" width="0.50" height="1.80" fill="#a8a8a8" />
<rect x="505.70" y="59.20" width="0.50" height="1.80" fill="#a8a8a8" />
<rect x="507.70" y="59.20" width="0.50" height="1.80" fill="#a8a8a8" />
<rect x="509.70" y="59.20" width="0.50" height="1.80" fill="#a8a8a8" />
<rect x="511.70" y="59.20" width="0.50" height="1.80" fill="#a8a8a8" />
<rect x="490.90" y="61.60" width="22.70" height="5.00" fill="#bebebe" />
<rect x="492.90" y="63.40" width="2.60" height="1.80" fill="#4e4e4e" filter="url(#bl3)"/>
<rect x="498.20" y="63.40" width="2.60" height="1.80" fill="#4e4e4e" filter="url(#bl3)"/>
<rect x="503.50" y="63.40" width="2.60" height="1.80" fill="#4e4e4e" filter="url(#bl3)"/>
<rect x="508.80" y="63.40" width="2.60" height="1.80" fill="#4e4e4e" filter="url(#bl3)"/>
<ellipse cx="503.00" cy="50.00" rx="6.60" ry="6.70" fill="#b4b4b8" opacity="0.5" filter="url(#bl2)"/>
<path d="M 497.66 51.04 C 497.20 46.88 500.88 44.54 504.10 45.32 C 506.86 46.88 506.40 52.60 504.56 54.42 C 502.26 55.72 498.12 54.68 497.66 51.04 Z" fill="#c26444" transform="rotate(0 501.8 50)" filter="url(#bl3)"/>
<ellipse cx="500.88" cy="50.52" rx="2.07" ry="2.34" fill="#dc9472" opacity="0.55" filter="url(#bl)"/>
<ellipse cx="503.18" cy="47.92" rx="1.38" ry="1.30" fill="#a84a30" opacity="0.6" filter="url(#bl)"/>
<rect x="417.80" y="70.10" width="22.00" height="32.30" fill="url(#tbg)"/>
<rect x="417.80" y="94.40" width="22.00" height="3.00" fill="#767676" />
<rect x="418.60" y="95.00" width="0.50" height="1.80" fill="#a8a8a8" />
<rect x="420.60" y="95.00" width="0.50" height="1.80" fill="#a8a8a8" />
<rect x="422.60" y="95.00" width="0.50" height="1.80" fill="#a8a8a8" />
<rect x="424.60" y="95.00" width="0.50" height="1.80" fill="#a8a8a8" />
<rect x="426.60" y="95.00" width="0.50" height="1.80" fill="#a8a8a8" />
<rect x="428.60" y="95.00" width="0.50" height="1.80" fill="#a8a8a8" />
<rect x="430.60" y="95.00" width="0.50" height="1.80" fill="#a8a8a8" />
<rect x="432.60" y="95.00" width="0.50" height="1.80" fill="#a8a8a8" />
<rect x="434.60" y="95.00" width="0.50" height="1.80" fill="#a8a8a8" />
<rect x="436.60" y="95.00" width="0.50" height="1.80" fill="#a8a8a8" />
<rect x="438.60" y="95.00" width="0.50" height="1.80" fill="#a8a8a8" />
<rect x="417.80" y="97.40" width="22.00" height="5.00" fill="#bebebe" />
<rect x="419.80" y="99.20" width="2.60" height="1.80" fill="#4e4e4e" filter="url(#bl3)"/>
<rect x="425.10" y="99.20" width="2.60" height="1.80" fill="#4e4e4e" filter="url(#bl3)"/>
<rect x="430.40" y="99.20" width="2.60" height="1.80" fill="#4e4e4e" filter="url(#bl3)"/>
<rect x="435.70" y="99.20" width="2.60" height="1.80" fill="#4e4e4e" filter="url(#bl3)"/>
<ellipse cx="432.20" cy="86.00" rx="4.30" ry="3.90" fill="#b4b4b8" opacity="0.5" filter="url(#bl2)"/>
<path d="M 428.93 86.48 C 428.70 84.56 430.54 83.48 432.15 83.84 C 433.53 84.56 433.30 87.20 432.38 88.04 C 431.23 88.64 429.16 88.16 428.93 86.48 Z" fill="#c26444" transform="rotate(0 431 86)" filter="url(#bl3)"/>
<ellipse cx="430.54" cy="86.24" rx="1.03" ry="1.08" fill="#dc9472" opacity="0.55" filter="url(#bl)"/>
<ellipse cx="431.69" cy="85.04" rx="0.69" ry="0.60" fill="#a84a30" opacity="0.6" filter="url(#bl)"/>
<rect x="441.70" y="70.10" width="22.80" height="32.30" fill="url(#tbg)"/>
<rect x="441.70" y="94.40" width="22.80" height="3.00" fill="#767676" />
<rect x="442.50" y="95.00" width="0.50" height="1.80" fill="#a8a8a8" />
<rect x="444.50" y="95.00" width="0.50" height="1.80" fill="#a8a8a8" />
<rect x="446.50" y="95.00" width="0.50" height="1.80" fill="#a8a8a8" />
<rect x="448.50" y="95.00" width="0.50" height="1.80" fill="#a8a8a8" />
<rect x="450.50" y="95.00" width="0.50" height="1.80" fill="#a8a8a8" />
<rect x="452.50" y="95.00" width="0.50" height="1.80" fill="#a8a8a8" />
<rect x="454.50" y="95.00" width="0.50" height="1.80" fill="#a8a8a8" />
<rect x="456.50" y="95.00" width="0.50" height="1.80" fill="#a8a8a8" />
<rect x="458.50" y="95.00" width="0.50" height="1.80" fill="#a8a8a8" />
<rect x="460.50" y="95.00" width="0.50" height="1.80" fill="#a8a8a8" />
<rect x="462.50" y="95.00" width="0.50" height="1.80" fill="#a8a8a8" />
<rect x="441.70" y="97.40" width="22.80" height="5.00" fill="#bebebe" />
<rect x="443.70" y="99.20" width="2.60" height="1.80" fill="#4e4e4e" filter="url(#bl3)"/>
<rect x="449.00" y="99.20" width="2.60" height="1.80" fill="#4e4e4e" filter="url(#bl3)"/>
<rect x="454.30" y="99.20" width="2.60" height="1.80" fill="#4e4e4e" filter="url(#bl3)"/>
<rect x="459.60" y="99.20" width="2.60" height="1.80" fill="#4e4e4e" filter="url(#bl3)"/>
<ellipse cx="454.40" cy="86.00" rx="5.80" ry="6.30" fill="#b4b4b8" opacity="0.5" filter="url(#bl2)"/>
<path d="M 449.78 86.96 C 449.40 83.12 452.44 80.96 455.10 81.68 C 457.38 83.12 457.00 88.40 455.48 90.08 C 453.58 91.28 450.16 90.32 449.78 86.96 Z" fill="#c26444" transform="rotate(10 453.2 86)" filter="url(#bl3)"/>
<ellipse cx="452.44" cy="86.48" rx="1.71" ry="2.16" fill="#dc9472" opacity="0.55" filter="url(#bl)"/>
<ellipse cx="454.34" cy="84.08" rx="1.14" ry="1.20" fill="#a84a30" opacity="0.6" filter="url(#bl)"/>
<rect x="466.60" y="70.10" width="22.10" height="32.30" fill="url(#tbg)"/>
<rect x="466.60" y="94.40" width="22.10" height="3.00" fill="#767676" />
<rect x="467.40" y="95.00" width="0.50" height="1.80" fill="#a8a8a8" />
<rect x="469.40" y="95.00" width="0.50" height="1.80" fill="#a8a8a8" />
<rect x="471.40" y="95.00" width="0.50" height="1.80" fill="#a8a8a8" />
<rect x="473.40" y="95.00" width="0.50" height="1.80" fill="#a8a8a8" />
<rect x="475.40" y="95.00" width="0.50" height="1.80" fill="#a8a8a8" />
<rect x="477.40" y="95.00" width="0.50" height="1.80" fill="#a8a8a8" />
<rect x="479.40" y="95.00" width="0.50" height="1.80" fill="#a8a8a8" />
<rect x="481.40" y="95.00" width="0.50" height="1.80" fill="#a8a8a8" />
<rect x="483.40" y="95.00" width="0.50" height="1.80" fill="#a8a8a8" />
<rect x="485.40" y="95.00" width="0.50" height="1.80" fill="#a8a8a8" />
<rect x="487.40" y="95.00" width="0.50" height="1.80" fill="#a8a8a8" />
<rect x="466.60" y="97.40" width="22.10" height="5.00" fill="#bebebe" />
<rect x="468.60" y="99.20" width="2.60" height="1.80" fill="#4e4e4e" filter="url(#bl3)"/>
<rect x="473.90" y="99.20" width="2.60" height="1.80" fill="#4e4e4e" filter="url(#bl3)"/>
<rect x="479.20" y="99.20" width="2.60" height="1.80" fill="#4e4e4e" filter="url(#bl3)"/>
<rect x="484.50" y="99.20" width="2.60" height="1.80" fill="#4e4e4e" filter="url(#bl3)"/>
<ellipse cx="478.20" cy="86.20" rx="6.60" ry="6.10" fill="#b4b4b8" opacity="0.5" filter="url(#bl2)"/>
<path d="M 472.86 87.12 C 472.40 83.44 476.08 81.37 479.30 82.06 C 482.06 83.44 481.60 88.50 479.76 90.11 C 477.46 91.26 473.32 90.34 472.86 87.12 Z" fill="#c26444" transform="rotate(0 477 86.2)" filter="url(#bl3)"/>
<ellipse cx="476.08" cy="86.66" rx="2.07" ry="2.07" fill="#dc9472" opacity="0.55" filter="url(#bl)"/>
<ellipse cx="478.38" cy="84.36" rx="1.38" ry="1.15" fill="#a84a30" opacity="0.6" filter="url(#bl)"/>
<rect x="490.90" y="70.10" width="22.70" height="32.30" fill="url(#tbg)"/>
<rect x="490.90" y="94.40" width="22.70" height="3.00" fill="#767676" />
<rect x="491.70" y="95.00" width="0.50" height="1.80" fill="#a8a8a8" />
<rect x="493.70" y="95.00" width="0.50" height="1.80" fill="#a8a8a8" />
<rect x="495.70" y="95.00" width="0.50" height="1.80" fill="#a8a8a8" />
<rect x="497.70" y="95.00" width="0.50" height="1.80" fill="#a8a8a8" />
<rect x="499.70" y="95.00" width="0.50" height="1.80" fill="#a8a8a8" />
<rect x="501.70" y="95.00" width="0.50" height="1.80" fill="#a8a8a8" />
<rect x="503.70" y="95.00" width="0.50" height="1.80" fill="#a8a8a8" />
<rect x="505.70" y="95.00" width="0.50" height="1.80" fill="#a8a8a8" />
<rect x="507.70" y="95.00" width="0.50" height="1.80" fill="#a8a8a8" />
<rect x="509.70" y="95.00" width="0.50" height="1.80" fill="#a8a8a8" />
<rect x="511.70" y="95.00" width="0.50" height="1.80" fill="#a8a8a8" />
<rect x="490.90" y="97.40" width="22.70" height="5.00" fill="#bebebe" />
<rect x="492.90" y="99.20" width="2.60" height="1.80" fill="#4e4e4e" filter="url(#bl3)"/>
<rect x="498.20" y="99.20" width="2.60" height="1.80" fill="#4e4e4e" filter="url(#bl3)"/>
<rect x="503.50" y="99.20" width="2.60" height="1.80" fill="#4e4e4e" filter="url(#bl3)"/>
<rect x="508.80" y="99.20" width="2.60" height="1.80" fill="#4e4e4e" filter="url(#bl3)"/>
<ellipse cx="502.00" cy="85.00" rx="5.60" ry="6.50" fill="#b4b4b8" opacity="0.5" filter="url(#bl2)"/>
<path d="M 497.56 86.00 C 497.20 82.00 500.08 79.75 502.60 80.50 C 504.76 82.00 504.40 87.50 502.96 89.25 C 501.16 90.50 497.92 89.50 497.56 86.00 Z" fill="#c26444" transform="rotate(10 500.8 85)" filter="url(#bl3)"/>
<ellipse cx="500.08" cy="85.50" rx="1.62" ry="2.25" fill="#dc9472" opacity="0.55" filter="url(#bl)"/>
<ellipse cx="501.88" cy="83.00" rx="1.08" ry="1.25" fill="#a84a30" opacity="0.6" filter="url(#bl)"/>
<text x="6.00" y="145.30" font-size="11.5" textLength="8.20" lengthAdjust="spacingAndGlyphs" fill="#000" font-weight="bold" >D</text>
<text x="59.20" y="144.60" font-size="8.4" textLength="62.50" lengthAdjust="spacingAndGlyphs" >HH/tumor volume</text>
<line x1="50.00" y1="161.20" x2="50.00" y2="218.90" stroke="#2a2a2a" stroke-width="1.1" />
<line x1="49.50" y1="218.40" x2="137.80" y2="218.40" stroke="#2a2a2a" stroke-width="1.2" />
<line x1="47.00" y1="218.40" x2="50.00" y2="218.40" stroke="#2a2a2a" stroke-width="1.0" />
<text x="43.70" y="221.20" font-size="8.2" text-anchor="end" textLength="4.20" lengthAdjust="spacingAndGlyphs" >0</text>
<line x1="47.00" y1="207.10" x2="50.00" y2="207.10" stroke="#2a2a2a" stroke-width="1.0" />
<text x="43.70" y="209.90" font-size="8.2" text-anchor="end" textLength="12.60" lengthAdjust="spacingAndGlyphs" >500</text>
<line x1="47.00" y1="195.80" x2="50.00" y2="195.80" stroke="#2a2a2a" stroke-width="1.0" />
<text x="43.70" y="198.60" font-size="8.2" text-anchor="end" textLength="16.80" lengthAdjust="spacingAndGlyphs" >1000</text>
<line x1="47.00" y1="184.50" x2="50.00" y2="184.50" stroke="#2a2a2a" stroke-width="1.0" />
<text x="43.70" y="187.30" font-size="8.2" text-anchor="end" textLength="16.80" lengthAdjust="spacingAndGlyphs" >1500</text>
<line x1="47.00" y1="173.20" x2="50.00" y2="173.20" stroke="#2a2a2a" stroke-width="1.0" />
<text x="43.70" y="176.00" font-size="8.2" text-anchor="end" textLength="16.80" lengthAdjust="spacingAndGlyphs" >2000</text>
<line x1="47.00" y1="161.90" x2="50.00" y2="161.90" stroke="#2a2a2a" stroke-width="1.0" />
<text x="43.70" y="164.70" font-size="8.2" text-anchor="end" textLength="16.80" lengthAdjust="spacingAndGlyphs" >2500</text>
<line x1="50.00" y1="218.40" x2="50.00" y2="221.40" stroke="#2a2a2a" stroke-width="1.0" />
<text x="50.00" y="231.00" font-size="8.6" text-anchor="middle" textLength="4.40" lengthAdjust="spacingAndGlyphs" >1</text>
<line x1="66.90" y1="218.40" x2="66.90" y2="221.40" stroke="#2a2a2a" stroke-width="1.0" />
<text x="66.90" y="231.00" font-size="8.6" text-anchor="middle" textLength="4.40" lengthAdjust="spacingAndGlyphs" >2</text>
<line x1="83.80" y1="218.40" x2="83.80" y2="221.40" stroke="#2a2a2a" stroke-width="1.0" />
<text x="83.80" y="231.00" font-size="8.6" text-anchor="middle" textLength="4.40" lengthAdjust="spacingAndGlyphs" >3</text>
<line x1="100.70" y1="218.40" x2="100.70" y2="221.40" stroke="#2a2a2a" stroke-width="1.0" />
<text x="100.70" y="231.00" font-size="8.6" text-anchor="middle" textLength="4.40" lengthAdjust="spacingAndGlyphs" >4</text>
<line x1="117.60" y1="218.40" x2="117.60" y2="221.40" stroke="#2a2a2a" stroke-width="1.0" />
<text x="117.60" y="231.00" font-size="8.6" text-anchor="middle" textLength="4.40" lengthAdjust="spacingAndGlyphs" >5</text>
<line x1="134.50" y1="218.40" x2="134.50" y2="221.40" stroke="#2a2a2a" stroke-width="1.0" />
<text x="134.50" y="231.00" font-size="8.6" text-anchor="middle" textLength="4.40" lengthAdjust="spacingAndGlyphs" >6</text>
<text x="61.60" y="240.90" font-size="8.8" textLength="60.70" lengthAdjust="spacingAndGlyphs" >Times of treatment</text>
<text x="22.59" y="192.00" font-size="9.0" text-anchor="middle" textLength="71.80" lengthAdjust="spacingAndGlyphs" transform="rotate(-90 22.59 192.00)" >Tumor volume (mm³)</text>
<line x1="66.90" y1="213.88" x2="66.90" y2="213.20" stroke="#4a7ab8" stroke-width="0.7" />
<line x1="65.30" y1="213.20" x2="68.50" y2="213.20" stroke="#4a7ab8" stroke-width="0.7" />
<line x1="83.80" y1="212.52" x2="83.80" y2="211.62" stroke="#4a7ab8" stroke-width="0.7" />
<line x1="82.20" y1="211.62" x2="85.40" y2="211.62" stroke="#4a7ab8" stroke-width="0.7" />
<line x1="100.70" y1="209.81" x2="100.70" y2="208.91" stroke="#4a7ab8" stroke-width="0.7" />
<line x1="99.10" y1="208.91" x2="102.30" y2="208.91" stroke="#4a7ab8" stroke-width="0.7" />
<line x1="117.60" y1="208.23" x2="117.60" y2="206.65" stroke="#4a7ab8" stroke-width="0.7" />
<line x1="116.00" y1="206.65" x2="119.20" y2="206.65" stroke="#4a7ab8" stroke-width="0.7" />
<line x1="134.50" y1="207.55" x2="134.50" y2="203.03" stroke="#4a7ab8" stroke-width="0.7" />
<line x1="132.90" y1="203.03" x2="136.10" y2="203.03" stroke="#4a7ab8" stroke-width="0.7" />
<line x1="66.90" y1="212.30" x2="66.90" y2="210.94" stroke="#d84a60" stroke-width="0.7" />
<line x1="65.30" y1="210.94" x2="68.50" y2="210.94" stroke="#d84a60" stroke-width="0.7" />
<line x1="83.80" y1="209.36" x2="83.80" y2="207.55" stroke="#d84a60" stroke-width="0.7" />
<line x1="82.20" y1="207.55" x2="85.40" y2="207.55" stroke="#d84a60" stroke-width="0.7" />
<line x1="100.70" y1="205.07" x2="100.70" y2="203.71" stroke="#d84a60" stroke-width="0.7" />
<line x1="99.10" y1="203.71" x2="102.30" y2="203.71" stroke="#d84a60" stroke-width="0.7" />
<line x1="117.60" y1="199.64" x2="117.60" y2="195.80" stroke="#d84a60" stroke-width="0.7" />
<line x1="116.00" y1="195.80" x2="119.20" y2="195.80" stroke="#d84a60" stroke-width="0.7" />
<line x1="134.50" y1="183.37" x2="134.50" y2="173.20" stroke="#d84a60" stroke-width="0.7" />
<line x1="132.90" y1="173.20" x2="136.10" y2="173.20" stroke="#d84a60" stroke-width="0.7" />
<polyline points="50.00,216.14 66.90,213.88 83.80,212.52 100.70,209.81 117.60,208.23 134.50,207.55" fill="none" stroke="#1c4f8f" stroke-width="1.3" stroke-linejoin="round" />
<rect x="48.50" y="214.64" width="3.00" height="3.00" fill="#1c4f8f"/>
<rect x="65.40" y="212.38" width="3.00" height="3.00" fill="#1c4f8f"/>
<rect x="82.30" y="211.02" width="3.00" height="3.00" fill="#1c4f8f"/>
<rect x="99.20" y="208.31" width="3.00" height="3.00" fill="#1c4f8f"/>
<rect x="116.10" y="206.73" width="3.00" height="3.00" fill="#1c4f8f"/>
<rect x="133.00" y="206.05" width="3.00" height="3.00" fill="#1c4f8f"/>
<polyline points="50.00,216.14 66.90,212.30 83.80,209.36 100.70,205.07 117.60,199.64 134.50,183.37" fill="none" stroke="#d01f3c" stroke-width="1.3" stroke-linejoin="round" />
<circle cx="50.00" cy="216.14" r="1.5" fill="#d01f3c"/>
<circle cx="66.90" cy="212.30" r="1.5" fill="#d01f3c"/>
<circle cx="83.80" cy="209.36" r="1.5" fill="#d01f3c"/>
<circle cx="100.70" cy="205.07" r="1.5" fill="#d01f3c"/>
<circle cx="117.60" cy="199.64" r="1.5" fill="#d01f3c"/>
<circle cx="134.50" cy="183.37" r="1.5" fill="#d01f3c"/>
<line x1="138.80" y1="183.20" x2="142.50" y2="183.20" stroke="#555" stroke-width="0.7" />
<line x1="142.50" y1="183.20" x2="142.50" y2="207.50" stroke="#555" stroke-width="0.7" />
<line x1="138.80" y1="207.50" x2="142.50" y2="207.50" stroke="#555" stroke-width="0.7" />
<text x="143.80" y="198.30" font-size="6.5" >**</text>
<polyline points="51.80,157.30 59.00,157.30" fill="none" stroke="#d01f3c" stroke-width="1.3" stroke-linejoin="round" />
<circle cx="55.40" cy="157.30" r="1.7" fill="#d01f3c"/>
<text x="61.30" y="158.80" font-size="7.8" textLength="24.60" lengthAdjust="spacingAndGlyphs" >Control</text>
<polyline points="51.80,164.80 59.00,164.80" fill="none" stroke="#1c4f8f" stroke-width="1.3" stroke-linejoin="round" />
<circle cx="55.40" cy="164.80" r="1.7" fill="#1c4f8f"/>
<text x="61.30" y="167.40" font-size="7.8" textLength="76.40" lengthAdjust="spacingAndGlyphs" >HLM006474 (30mg/kg)</text>
<text x="148.80" y="145.30" font-size="11.5" textLength="6.20" lengthAdjust="spacingAndGlyphs" fill="#000" font-weight="bold" >E</text>
<text x="193.60" y="144.60" font-size="8.4" textLength="58.10" lengthAdjust="spacingAndGlyphs" >HH/body weight</text>
<line x1="180.20" y1="162.00" x2="180.20" y2="220.30" stroke="#2a2a2a" stroke-width="1.1" />
<line x1="179.70" y1="219.80" x2="266.60" y2="219.80" stroke="#2a2a2a" stroke-width="1.2" />
<line x1="177.20" y1="219.80" x2="180.20" y2="219.80" stroke="#2a2a2a" stroke-width="1.0" />
<text x="176.00" y="222.70" font-size="8.4" text-anchor="end" textLength="9.20" lengthAdjust="spacingAndGlyphs" >18</text>
<line x1="177.20" y1="205.55" x2="180.20" y2="205.55" stroke="#2a2a2a" stroke-width="1.0" />
<text x="176.00" y="208.45" font-size="8.4" text-anchor="end" textLength="9.20" lengthAdjust="spacingAndGlyphs" >20</text>
<line x1="177.20" y1="191.30" x2="180.20" y2="191.30" stroke="#2a2a2a" stroke-width="1.0" />
<text x="176.00" y="194.20" font-size="8.4" text-anchor="end" textLength="9.20" lengthAdjust="spacingAndGlyphs" >22</text>
<line x1="177.20" y1="177.05" x2="180.20" y2="177.05" stroke="#2a2a2a" stroke-width="1.0" />
<text x="176.00" y="179.95" font-size="8.4" text-anchor="end" textLength="9.20" lengthAdjust="spacingAndGlyphs" >24</text>
<line x1="177.20" y1="162.80" x2="180.20" y2="162.80" stroke="#2a2a2a" stroke-width="1.0" />
<text x="176.00" y="165.70" font-size="8.4" text-anchor="end" textLength="9.20" lengthAdjust="spacingAndGlyphs" >26</text>
<line x1="180.20" y1="219.80" x2="180.20" y2="222.80" stroke="#2a2a2a" stroke-width="1.0" />
<text x="180.20" y="232.00" font-size="8.6" text-anchor="middle" textLength="4.40" lengthAdjust="spacingAndGlyphs" >1</text>
<line x1="197.10" y1="219.80" x2="197.10" y2="222.80" stroke="#2a2a2a" stroke-width="1.0" />
<text x="197.10" y="232.00" font-size="8.6" text-anchor="middle" textLength="4.40" lengthAdjust="spacingAndGlyphs" >2</text>
<line x1="214.00" y1="219.80" x2="214.00" y2="222.80" stroke="#2a2a2a" stroke-width="1.0" />
<text x="214.00" y="232.00" font-size="8.6" text-anchor="middle" textLength="4.40" lengthAdjust="spacingAndGlyphs" >3</text>
<line x1="230.90" y1="219.80" x2="230.90" y2="222.80" stroke="#2a2a2a" stroke-width="1.0" />
<text x="230.90" y="232.00" font-size="8.6" text-anchor="middle" textLength="4.40" lengthAdjust="spacingAndGlyphs" >4</text>
<line x1="247.80" y1="219.80" x2="247.80" y2="222.80" stroke="#2a2a2a" stroke-width="1.0" />
<text x="247.80" y="232.00" font-size="8.6" text-anchor="middle" textLength="4.40" lengthAdjust="spacingAndGlyphs" >5</text>
<line x1="264.70" y1="219.80" x2="264.70" y2="222.80" stroke="#2a2a2a" stroke-width="1.0" />
<text x="264.70" y="232.00" font-size="8.6" text-anchor="middle" textLength="4.40" lengthAdjust="spacingAndGlyphs" >6</text>
<text x="191.90" y="241.60" font-size="8.8" textLength="61.10" lengthAdjust="spacingAndGlyphs" >Times of treatment</text>
<text x="160.99" y="190.70" font-size="9.0" text-anchor="middle" textLength="49.80" lengthAdjust="spacingAndGlyphs" transform="rotate(-90 160.99 190.70)" >Body weight (g)</text>
<line x1="180.20" y1="208.40" x2="180.20" y2="206.26" stroke="#e07888" stroke-width="0.7" />
<line x1="178.60" y1="206.26" x2="181.80" y2="206.26" stroke="#e07888" stroke-width="0.7" />
<line x1="197.10" y1="204.13" x2="197.10" y2="199.85" stroke="#e07888" stroke-width="0.7" />
<line x1="195.50" y1="199.85" x2="198.70" y2="199.85" stroke="#e07888" stroke-width="0.7" />
<line x1="214.00" y1="201.28" x2="214.00" y2="197.00" stroke="#e07888" stroke-width="0.7" />
<line x1="212.40" y1="197.00" x2="215.60" y2="197.00" stroke="#e07888" stroke-width="0.7" />
<line x1="230.90" y1="199.85" x2="230.90" y2="192.72" stroke="#e07888" stroke-width="0.7" />
<line x1="229.30" y1="192.72" x2="232.50" y2="192.72" stroke="#e07888" stroke-width="0.7" />
<line x1="247.80" y1="196.29" x2="247.80" y2="186.31" stroke="#e07888" stroke-width="0.7" />
<line x1="246.20" y1="186.31" x2="249.40" y2="186.31" stroke="#e07888" stroke-width="0.7" />
<line x1="264.70" y1="196.29" x2="264.70" y2="189.16" stroke="#e07888" stroke-width="0.7" />
<line x1="263.10" y1="189.16" x2="266.30" y2="189.16" stroke="#e07888" stroke-width="0.7" />
<line x1="180.20" y1="209.83" x2="180.20" y2="199.14" stroke="#5a8ac4" stroke-width="0.7" />
<line x1="178.60" y1="199.14" x2="181.80" y2="199.14" stroke="#5a8ac4" stroke-width="0.7" />
<line x1="197.10" y1="203.41" x2="197.10" y2="195.58" stroke="#5a8ac4" stroke-width="0.7" />
<line x1="195.50" y1="195.58" x2="198.70" y2="195.58" stroke="#5a8ac4" stroke-width="0.7" />
<line x1="214.00" y1="199.85" x2="214.00" y2="194.15" stroke="#5a8ac4" stroke-width="0.7" />
<line x1="212.40" y1="194.15" x2="215.60" y2="194.15" stroke="#5a8ac4" stroke-width="0.7" />
<line x1="230.90" y1="198.43" x2="230.90" y2="191.30" stroke="#5a8ac4" stroke-width="0.7" />
<line x1="229.30" y1="191.30" x2="232.50" y2="191.30" stroke="#5a8ac4" stroke-width="0.7" />
<line x1="247.80" y1="192.72" x2="247.80" y2="182.75" stroke="#5a8ac4" stroke-width="0.7" />
<line x1="246.20" y1="182.75" x2="249.40" y2="182.75" stroke="#5a8ac4" stroke-width="0.7" />
<line x1="264.70" y1="194.15" x2="264.70" y2="185.60" stroke="#5a8ac4" stroke-width="0.7" />
<line x1="263.10" y1="185.60" x2="266.30" y2="185.60" stroke="#5a8ac4" stroke-width="0.7" />
<polyline points="180.20,208.40 197.10,204.13 214.00,201.28 230.90,199.85 247.80,196.29 264.70,196.29" fill="none" stroke="#d01f3c" stroke-width="1.3" stroke-linejoin="round" />
<circle cx="180.20" cy="208.40" r="1.5" fill="#d01f3c"/>
<circle cx="197.10" cy="204.13" r="1.5" fill="#d01f3c"/>
<circle cx="214.00" cy="201.28" r="1.5" fill="#d01f3c"/>
<circle cx="230.90" cy="199.85" r="1.5" fill="#d01f3c"/>
<circle cx="247.80" cy="196.29" r="1.5" fill="#d01f3c"/>
<circle cx="264.70" cy="196.29" r="1.5" fill="#d01f3c"/>
<polyline points="180.20,209.83 197.10,203.41 214.00,199.85 230.90,198.43 247.80,192.72 264.70,194.15" fill="none" stroke="#1c4f8f" stroke-width="1.3" stroke-linejoin="round" />
<rect x="178.70" y="208.33" width="3.00" height="3.00" fill="#1c4f8f"/>
<rect x="195.60" y="201.91" width="3.00" height="3.00" fill="#1c4f8f"/>
<rect x="212.50" y="198.35" width="3.00" height="3.00" fill="#1c4f8f"/>
<rect x="229.40" y="196.93" width="3.00" height="3.00" fill="#1c4f8f"/>
<rect x="246.30" y="191.22" width="3.00" height="3.00" fill="#1c4f8f"/>
<rect x="263.20" y="192.65" width="3.00" height="3.00" fill="#1c4f8f"/>
<text x="267.80" y="196.40" font-size="8.0" >ns</text>
<polyline points="183.50,157.50 190.80,157.50" fill="none" stroke="#d01f3c" stroke-width="1.3" stroke-linejoin="round" />
<circle cx="187.10" cy="157.50" r="1.7" fill="#d01f3c"/>
<text x="192.80" y="159.00" font-size="7.8" textLength="24.90" lengthAdjust="spacingAndGlyphs" >Control</text>
<polyline points="183.50,165.00 190.80,165.00" fill="none" stroke="#1c4f8f" stroke-width="1.3" stroke-linejoin="round" />
<circle cx="187.10" cy="165.00" r="1.7" fill="#1c4f8f"/>
<text x="192.80" y="167.70" font-size="7.8" textLength="76.90" lengthAdjust="spacingAndGlyphs" >HLM006474 (30mg/kg)</text>
<text x="279.70" y="144.90" font-size="11.5" textLength="6.90" lengthAdjust="spacingAndGlyphs" fill="#000" font-weight="bold" >F</text>
<text x="334.50" y="144.60" font-size="8.2" textLength="42.60" lengthAdjust="spacingAndGlyphs" >HLM006474</text>
<line x1="314.40" y1="160.80" x2="314.40" y2="221.70" stroke="#2a2a2a" stroke-width="1.1" />
<line x1="313.90" y1="221.20" x2="404.70" y2="221.20" stroke="#2a2a2a" stroke-width="1.2" />
<line x1="311.40" y1="215.60" x2="314.40" y2="215.60" stroke="#2a2a2a" stroke-width="1.0" />
<text x="309.20" y="218.40" font-size="8.2" text-anchor="end" textLength="4.50" lengthAdjust="spacingAndGlyphs" >0</text>
<line x1="311.40" y1="204.75" x2="314.40" y2="204.75" stroke="#2a2a2a" stroke-width="1.0" />
<text x="309.20" y="207.55" font-size="8.2" text-anchor="end" textLength="9.00" lengthAdjust="spacingAndGlyphs" >20</text>
<line x1="311.40" y1="193.90" x2="314.40" y2="193.90" stroke="#2a2a2a" stroke-width="1.0" />
<text x="309.20" y="196.70" font-size="8.2" text-anchor="end" textLength="9.00" lengthAdjust="spacingAndGlyphs" >40</text>
<line x1="311.40" y1="183.05" x2="314.40" y2="183.05" stroke="#2a2a2a" stroke-width="1.0" />
<text x="309.20" y="185.85" font-size="8.2" text-anchor="end" textLength="9.00" lengthAdjust="spacingAndGlyphs" >60</text>
<line x1="311.40" y1="172.20" x2="314.40" y2="172.20" stroke="#2a2a2a" stroke-width="1.0" />
<text x="309.20" y="175.00" font-size="8.2" text-anchor="end" textLength="9.00" lengthAdjust="spacingAndGlyphs" >80</text>
<line x1="311.40" y1="161.35" x2="314.40" y2="161.35" stroke="#2a2a2a" stroke-width="1.0" />
<text x="309.20" y="164.15" font-size="8.2" text-anchor="end" textLength="13.50" lengthAdjust="spacingAndGlyphs" >100</text>
<line x1="322.30" y1="221.20" x2="322.30" y2="224.20" stroke="#2a2a2a" stroke-width="1.0" />
<text x="322.30" y="233.00" font-size="8.2" text-anchor="middle" textLength="4.40" lengthAdjust="spacingAndGlyphs" >0</text>
<line x1="337.30" y1="221.20" x2="337.30" y2="224.20" stroke="#2a2a2a" stroke-width="1.0" />
<text x="337.30" y="233.00" font-size="8.2" text-anchor="middle" textLength="10.80" lengthAdjust="spacingAndGlyphs" >2.5</text>
<line x1="352.20" y1="221.20" x2="352.20" y2="224.20" stroke="#2a2a2a" stroke-width="1.0" />
<text x="352.20" y="233.00" font-size="8.2" text-anchor="middle" textLength="4.40" lengthAdjust="spacingAndGlyphs" >5</text>
<line x1="367.10" y1="221.20" x2="367.10" y2="224.20" stroke="#2a2a2a" stroke-width="1.0" />
<text x="367.10" y="233.00" font-size="8.2" text-anchor="middle" textLength="8.80" lengthAdjust="spacingAndGlyphs" >10</text>
<line x1="382.00" y1="221.20" x2="382.00" y2="224.20" stroke="#2a2a2a" stroke-width="1.0" />
<text x="382.00" y="233.00" font-size="8.2" text-anchor="middle" textLength="8.80" lengthAdjust="spacingAndGlyphs" >20</text>
<line x1="396.90" y1="221.20" x2="396.90" y2="224.20" stroke="#2a2a2a" stroke-width="1.0" />
<text x="396.90" y="233.00" font-size="8.2" text-anchor="middle" textLength="8.80" lengthAdjust="spacingAndGlyphs" >40</text>
<text x="328.80" y="243.60" font-size="8.5" textLength="59.90" lengthAdjust="spacingAndGlyphs" >HLM006474 (μM)</text>
<text x="294.09" y="191.10" font-size="9.0" text-anchor="middle" textLength="70.80" lengthAdjust="spacingAndGlyphs" transform="rotate(-90 294.09 191.10)" >Specific apoptosis (%)</text>
<line x1="314.40" y1="215.60" x2="405.00" y2="215.60" stroke="#9a9a9a" stroke-width="0.7" stroke-dasharray="1,1"/>
<polyline points="322.30,215.60 337.30,215.60 352.20,212.89 367.10,204.21 382.00,176.54 396.90,166.23" fill="none" stroke="#d01f3c" stroke-width="1.2" stroke-linejoin="round" />
<polygon points="322.30,213.65 320.50,216.80 324.10,216.80" fill="#d01f3c"/>
<polygon points="337.30,213.65 335.50,216.80 339.10,216.80" fill="#d01f3c"/>
<polygon points="352.20,210.94 350.40,214.09 354.00,214.09" fill="#d01f3c"/>
<polygon points="367.10,202.26 365.30,205.41 368.90,205.41" fill="#d01f3c"/>
<polygon points="382.00,174.59 380.20,177.74 383.80,177.74" fill="#d01f3c"/>
<polygon points="396.90,164.28 395.10,167.43 398.70,167.43" fill="#d01f3c"/>
<polyline points="322.30,215.60 337.30,215.60 352.20,214.51 367.10,211.80 382.00,203.66 396.90,188.47" fill="none" stroke="#d01f3c" stroke-width="1.2" stroke-linejoin="round" />
<polygon points="322.30,217.55 320.50,214.40 324.10,214.40" fill="#d01f3c"/>
<polygon points="337.30,217.55 335.50,214.40 339.10,214.40" fill="#d01f3c"/>
<polygon points="352.20,216.46 350.40,213.31 354.00,213.31" fill="#d01f3c"/>
<polygon points="367.10,213.75 365.30,210.60 368.90,210.60" fill="#d01f3c"/>
<polygon points="382.00,205.61 380.20,202.47 383.80,202.47" fill="#d01f3c"/>
<polygon points="396.90,190.42 395.10,187.28 398.70,187.28" fill="#d01f3c"/>
<polyline points="322.30,215.60 337.30,215.60 352.20,215.60 367.10,215.60 382.00,212.89 396.90,213.97" fill="none" stroke="#1c4f8f" stroke-width="1.2" stroke-linejoin="round" />
<circle cx="322.30" cy="215.60" r="1.5" fill="#1c4f8f"/>
<circle cx="337.30" cy="215.60" r="1.5" fill="#1c4f8f"/>
<circle cx="352.20" cy="215.60" r="1.5" fill="#1c4f8f"/>
<circle cx="367.10" cy="215.60" r="1.5" fill="#1c4f8f"/>
<circle cx="382.00" cy="212.89" r="1.5" fill="#1c4f8f"/>
<circle cx="396.90" cy="213.97" r="1.5" fill="#1c4f8f"/>
<polyline points="322.30,215.60 337.30,215.60 352.20,215.60 367.10,214.51 382.00,212.89 396.90,212.89" fill="none" stroke="#1c4f8f" stroke-width="1.2" stroke-linejoin="round" />
<rect x="320.80" y="214.10" width="3.00" height="3.00" fill="#1c4f8f"/>
<rect x="335.80" y="214.10" width="3.00" height="3.00" fill="#1c4f8f"/>
<rect x="350.70" y="214.10" width="3.00" height="3.00" fill="#1c4f8f"/>
<rect x="365.60" y="213.01" width="3.00" height="3.00" fill="#1c4f8f"/>
<rect x="380.50" y="211.39" width="3.00" height="3.00" fill="#1c4f8f"/>
<rect x="395.40" y="211.39" width="3.00" height="3.00" fill="#1c4f8f"/>
<polyline points="316.30,155.50 324.50,155.50" fill="none" stroke="#d01f3c" stroke-width="1.1" stroke-linejoin="round" />
<polygon points="320.40,153.68 318.72,156.62 322.08,156.62" fill="#d01f3c"/>
<text x="327.80" y="158.30" font-size="7.8" textLength="29.40" lengthAdjust="spacingAndGlyphs" >L-CTCL-1</text>
<polyline points="316.30,163.70 324.50,163.70" fill="none" stroke="#d01f3c" stroke-width="1.1" stroke-linejoin="round" />
<polygon points="320.40,165.52 318.72,162.58 322.08,162.58" fill="#d01f3c"/>
<text x="327.80" y="166.50" font-size="7.8" textLength="29.40" lengthAdjust="spacingAndGlyphs" >L-CTCL-2</text>
<polyline points="316.30,171.90 324.50,171.90" fill="none" stroke="#1c4f8f" stroke-width="1.1" stroke-linejoin="round" />
<circle cx="320.40" cy="171.90" r="1.4" fill="#1c4f8f"/>
<text x="327.80" y="174.70" font-size="7.8" textLength="31.40" lengthAdjust="spacingAndGlyphs" >Normal-1</text>
<polyline points="316.30,180.10 324.50,180.10" fill="none" stroke="#1c4f8f" stroke-width="1.1" stroke-linejoin="round" />
<rect x="319.00" y="178.70" width="2.80" height="2.80" fill="#1c4f8f"/>
<text x="327.80" y="182.90" font-size="7.8" textLength="31.40" lengthAdjust="spacingAndGlyphs" >Normal-2</text>
<line x1="400.30" y1="168.00" x2="401.60" y2="168.00" stroke="#777" stroke-width="0.6" />
<line x1="401.60" y1="168.00" x2="401.60" y2="186.30" stroke="#777" stroke-width="0.6" />
<line x1="400.30" y1="186.30" x2="401.60" y2="186.30" stroke="#777" stroke-width="0.6" />
<line x1="401.60" y1="176.90" x2="408.10" y2="176.90" stroke="#777" stroke-width="0.6" />
<line x1="400.30" y1="210.00" x2="401.60" y2="210.00" stroke="#777" stroke-width="0.6" />
<line x1="401.60" y1="210.00" x2="401.60" y2="214.40" stroke="#777" stroke-width="0.6" />
<line x1="400.30" y1="214.40" x2="401.60" y2="214.40" stroke="#777" stroke-width="0.6" />
<line x1="401.60" y1="212.20" x2="408.10" y2="212.20" stroke="#777" stroke-width="0.6" />
<line x1="408.10" y1="176.90" x2="408.10" y2="212.20" stroke="#777" stroke-width="0.6" />
<text x="409.80" y="198.80" font-size="5.5" >*</text>
<text x="460.70" y="144.50" font-size="8.2" textLength="23.50" lengthAdjust="spacingAndGlyphs" >PEG10</text>
<line x1="440.20" y1="152.00" x2="440.20" y2="217.20" stroke="#2a2a2a" stroke-width="1.1" />
<line x1="439.70" y1="216.70" x2="505.00" y2="216.70" stroke="#2a2a2a" stroke-width="1.2" />
<line x1="437.20" y1="216.70" x2="440.20" y2="216.70" stroke="#2a2a2a" stroke-width="1.0" />
<text x="436.00" y="219.50" font-size="8.2" text-anchor="end" textLength="4.30" lengthAdjust="spacingAndGlyphs" >0</text>
<line x1="437.20" y1="200.60" x2="440.20" y2="200.60" stroke="#2a2a2a" stroke-width="1.0" />
<text x="436.00" y="203.40" font-size="8.2" text-anchor="end" textLength="4.30" lengthAdjust="spacingAndGlyphs" >5</text>
<line x1="437.20" y1="184.50" x2="440.20" y2="184.50" stroke="#2a2a2a" stroke-width="1.0" />
<text x="436.00" y="187.30" font-size="8.2" text-anchor="end" textLength="8.60" lengthAdjust="spacingAndGlyphs" >10</text>
<line x1="437.20" y1="168.40" x2="440.20" y2="168.40" stroke="#2a2a2a" stroke-width="1.0" />
<text x="436.00" y="171.20" font-size="8.2" text-anchor="end" textLength="8.60" lengthAdjust="spacingAndGlyphs" >15</text>
<line x1="437.20" y1="152.30" x2="440.20" y2="152.30" stroke="#2a2a2a" stroke-width="1.0" />
<text x="436.00" y="155.10" font-size="8.2" text-anchor="end" textLength="8.60" lengthAdjust="spacingAndGlyphs" >20</text>
<rect x="445.60" y="167.76" width="9.60" height="48.94" fill="#d01f3c" />
<line x1="450.40" y1="216.70" x2="450.40" y2="219.70" stroke="#2a2a2a" stroke-width="1.0" />
<rect x="461.00" y="201.57" width="9.20" height="15.13" fill="#d01f3c" />
<line x1="465.60" y1="216.70" x2="465.60" y2="219.70" stroke="#2a2a2a" stroke-width="1.0" />
<rect x="476.00" y="215.09" width="9.00" height="1.61" fill="#1c4f8f" />
<line x1="480.50" y1="216.70" x2="480.50" y2="219.70" stroke="#2a2a2a" stroke-width="1.0" />
<rect x="490.90" y="213.80" width="8.90" height="2.90" fill="#1c4f8f" />
<line x1="495.35" y1="216.70" x2="495.35" y2="219.70" stroke="#2a2a2a" stroke-width="1.0" />
<text x="451.90" y="225.00" font-size="8.8" text-anchor="end" textLength="31.00" lengthAdjust="spacingAndGlyphs" transform="rotate(-45 451.90 225.00)" >L-CTCL-1</text>
<text x="467.10" y="225.00" font-size="8.8" text-anchor="end" textLength="31.00" lengthAdjust="spacingAndGlyphs" transform="rotate(-45 467.10 225.00)" >L-CTCL-2</text>
<text x="482.00" y="225.00" font-size="8.8" text-anchor="end" textLength="31.00" lengthAdjust="spacingAndGlyphs" transform="rotate(-45 482.00 225.00)" >Normal-1</text>
<text x="496.85" y="225.00" font-size="8.8" text-anchor="end" textLength="31.00" lengthAdjust="spacingAndGlyphs" transform="rotate(-45 496.85 225.00)" >Normal-2</text>
<text x="423.12" y="184.05" font-size="8.6" text-anchor="middle" textLength="65.90" lengthAdjust="spacingAndGlyphs" transform="rotate(-90 423.12 184.05)" >PEG10 mRNA (TPM)</text>
<text x="5.80" y="266.80" font-size="11.5" textLength="8.60" lengthAdjust="spacingAndGlyphs" fill="#000" font-weight="bold" >G</text>
<text x="61.30" y="270.20" font-size="8.3" textLength="48.90" lengthAdjust="spacingAndGlyphs" >HH/apoptosis</text>
<line x1="46.30" y1="299.60" x2="46.30" y2="358.10" stroke="#2a2a2a" stroke-width="1.1" />
<line x1="45.80" y1="357.60" x2="123.20" y2="357.60" stroke="#2a2a2a" stroke-width="1.2" />
<line x1="43.30" y1="357.60" x2="46.30" y2="357.60" stroke="#2a2a2a" stroke-width="1.0" />
<text x="40.50" y="360.50" font-size="8.2" text-anchor="end" textLength="4.45" lengthAdjust="spacingAndGlyphs" >0</text>
<line x1="43.30" y1="346.15" x2="46.30" y2="346.15" stroke="#2a2a2a" stroke-width="1.0" />
<text x="40.50" y="349.05" font-size="8.2" text-anchor="end" textLength="8.90" lengthAdjust="spacingAndGlyphs" >20</text>
<line x1="43.30" y1="334.70" x2="46.30" y2="334.70" stroke="#2a2a2a" stroke-width="1.0" />
<text x="40.50" y="337.60" font-size="8.2" text-anchor="end" textLength="8.90" lengthAdjust="spacingAndGlyphs" >40</text>
<line x1="43.30" y1="323.25" x2="46.30" y2="323.25" stroke="#2a2a2a" stroke-width="1.0" />
<text x="40.50" y="326.15" font-size="8.2" text-anchor="end" textLength="8.90" lengthAdjust="spacingAndGlyphs" >60</text>
<line x1="43.30" y1="311.80" x2="46.30" y2="311.80" stroke="#2a2a2a" stroke-width="1.0" />
<text x="40.50" y="314.70" font-size="8.2" text-anchor="end" textLength="8.90" lengthAdjust="spacingAndGlyphs" >80</text>
<line x1="43.30" y1="300.35" x2="46.30" y2="300.35" stroke="#2a2a2a" stroke-width="1.0" />
<text x="40.50" y="303.25" font-size="8.2" text-anchor="end" textLength="13.35" lengthAdjust="spacingAndGlyphs" >100</text>
<line x1="53.80" y1="357.60" x2="53.80" y2="360.40" stroke="#2a2a2a" stroke-width="1.0" />
<text x="53.40" y="370.50" font-size="8.0" text-anchor="middle" textLength="4.10" lengthAdjust="spacingAndGlyphs" >0</text>
<text x="53.40" y="379.20" font-size="8.0" text-anchor="middle" textLength="4.10" lengthAdjust="spacingAndGlyphs" >0</text>
<line x1="69.30" y1="357.60" x2="69.30" y2="360.40" stroke="#2a2a2a" stroke-width="1.0" />
<text x="67.20" y="370.50" font-size="8.0" text-anchor="middle" textLength="14.30" lengthAdjust="spacingAndGlyphs" >0.25</text>
<text x="67.20" y="379.20" font-size="8.0" text-anchor="middle" textLength="10.20" lengthAdjust="spacingAndGlyphs" >2.5</text>
<line x1="84.60" y1="357.60" x2="84.60" y2="360.40" stroke="#2a2a2a" stroke-width="1.0" />
<text x="84.50" y="370.50" font-size="8.0" text-anchor="middle" textLength="10.20" lengthAdjust="spacingAndGlyphs" >0.5</text>
<text x="84.50" y="379.20" font-size="8.0" text-anchor="middle" textLength="4.10" lengthAdjust="spacingAndGlyphs" >5</text>
<line x1="99.80" y1="357.60" x2="99.80" y2="360.40" stroke="#2a2a2a" stroke-width="1.0" />
<text x="100.00" y="370.50" font-size="8.0" text-anchor="middle" textLength="4.10" lengthAdjust="spacingAndGlyphs" >1</text>
<text x="100.40" y="379.20" font-size="8.0" text-anchor="middle" textLength="8.20" lengthAdjust="spacingAndGlyphs" >10</text>
<line x1="115.50" y1="357.60" x2="115.50" y2="360.40" stroke="#2a2a2a" stroke-width="1.0" />
<text x="115.50" y="370.50" font-size="8.0" text-anchor="middle" textLength="4.10" lengthAdjust="spacingAndGlyphs" >2</text>
<text x="115.20" y="379.20" font-size="8.0" text-anchor="middle" textLength="8.20" lengthAdjust="spacingAndGlyphs" >20</text>
<text x="9.05" y="370.50" font-size="7.6" textLength="35.65" lengthAdjust="spacingAndGlyphs" >SAHA (μM)</text>
<text x="12.80" y="379.20" font-size="7.6" textLength="31.90" lengthAdjust="spacingAndGlyphs" >HLM (μM)</text>
<text x="22.19" y="323.25" font-size="9.0" text-anchor="middle" textLength="70.90" lengthAdjust="spacingAndGlyphs" transform="rotate(-90 22.19 323.25)" >Specific apoptosis (%)</text>
<polyline points="49.50,281.20 57.20,281.20" fill="none" stroke="#d01f3c" stroke-width="1.2" stroke-linejoin="round" />
<circle cx="53.35" cy="281.20" r="1.7" fill="#d01f3c"/>
<text x="59.40" y="284.00" font-size="7.8" textLength="18.30" lengthAdjust="spacingAndGlyphs" >SAHA</text>
<polyline points="49.50,288.95 57.20,288.95" fill="none" stroke="#1c4f8f" stroke-width="1.2" stroke-linejoin="round" />
<rect x="51.65" y="287.25" width="3.40" height="3.40" fill="#1c4f8f"/>
<text x="59.40" y="291.75" font-size="7.8" textLength="16.30" lengthAdjust="spacingAndGlyphs" >HLM</text>
<polyline points="49.50,296.70 57.20,296.70" fill="none" stroke="#3fbf3f" stroke-width="1.2" stroke-linejoin="round" />
<polygon points="53.35,294.49 51.31,298.06 55.39,298.06" fill="#3fbf3f"/>
<text x="59.40" y="299.50" font-size="7.8" textLength="44.30" lengthAdjust="spacingAndGlyphs" >SAHA + HLM</text>
<polyline points="53.80,357.60 69.30,346.15 84.60,315.81 99.80,302.64 115.50,300.92" fill="none" stroke="#3fbf3f" stroke-width="1.15" stroke-linejoin="round" />
<polyline points="53.80,357.60 69.30,351.88 84.60,346.15 99.80,330.12 115.50,308.94" fill="none" stroke="#1c4f8f" stroke-width="1.15" stroke-linejoin="round" />
<polyline points="53.80,357.60 69.30,349.01 84.60,332.98 99.80,311.80 115.50,303.21" fill="none" stroke="#d01f3c" stroke-width="1.15" stroke-linejoin="round" />
<polygon points="53.80,355.65 52.00,358.80 55.60,358.80" fill="#3fbf3f"/>
<polygon points="69.30,344.20 67.50,347.35 71.10,347.35" fill="#3fbf3f"/>
<polygon points="84.60,313.86 82.80,317.01 86.40,317.01" fill="#3fbf3f"/>
<polygon points="99.80,300.69 98.00,303.84 101.60,303.84" fill="#3fbf3f"/>
<polygon points="115.50,298.97 113.70,302.12 117.30,302.12" fill="#3fbf3f"/>
<rect x="52.30" y="356.10" width="3.00" height="3.00" fill="#1c4f8f"/>
<rect x="67.80" y="350.38" width="3.00" height="3.00" fill="#1c4f8f"/>
<rect x="83.10" y="344.65" width="3.00" height="3.00" fill="#1c4f8f"/>
<rect x="98.30" y="328.62" width="3.00" height="3.00" fill="#1c4f8f"/>
<rect x="114.00" y="307.44" width="3.00" height="3.00" fill="#1c4f8f"/>
<circle cx="53.80" cy="357.60" r="1.5" fill="#d01f3c"/>
<circle cx="69.30" cy="349.01" r="1.5" fill="#d01f3c"/>
<circle cx="84.60" cy="332.98" r="1.5" fill="#d01f3c"/>
<circle cx="99.80" cy="311.80" r="1.5" fill="#d01f3c"/>
<circle cx="115.50" cy="303.21" r="1.5" fill="#d01f3c"/>
<text x="139.00" y="266.80" font-size="11.5" textLength="8.30" lengthAdjust="spacingAndGlyphs" fill="#000" font-weight="bold" >H</text>
<text x="187.20" y="270.20" font-size="8.3" textLength="48.00" lengthAdjust="spacingAndGlyphs" >HH/apoptosis</text>
<line x1="175.80" y1="299.60" x2="175.80" y2="358.10" stroke="#2a2a2a" stroke-width="1.1" />
<line x1="175.30" y1="357.60" x2="252.00" y2="357.60" stroke="#2a2a2a" stroke-width="1.2" />
<line x1="172.80" y1="357.60" x2="175.80" y2="357.60" stroke="#2a2a2a" stroke-width="1.0" />
<text x="170.00" y="360.50" font-size="8.2" text-anchor="end" textLength="4.45" lengthAdjust="spacingAndGlyphs" >0</text>
<line x1="172.80" y1="346.15" x2="175.80" y2="346.15" stroke="#2a2a2a" stroke-width="1.0" />
<text x="170.00" y="349.05" font-size="8.2" text-anchor="end" textLength="8.90" lengthAdjust="spacingAndGlyphs" >20</text>
<line x1="172.80" y1="334.70" x2="175.80" y2="334.70" stroke="#2a2a2a" stroke-width="1.0" />
<text x="170.00" y="337.60" font-size="8.2" text-anchor="end" textLength="8.90" lengthAdjust="spacingAndGlyphs" >40</text>
<line x1="172.80" y1="323.25" x2="175.80" y2="323.25" stroke="#2a2a2a" stroke-width="1.0" />
<text x="170.00" y="326.15" font-size="8.2" text-anchor="end" textLength="8.90" lengthAdjust="spacingAndGlyphs" >60</text>
<line x1="172.80" y1="311.80" x2="175.80" y2="311.80" stroke="#2a2a2a" stroke-width="1.0" />
<text x="170.00" y="314.70" font-size="8.2" text-anchor="end" textLength="8.90" lengthAdjust="spacingAndGlyphs" >80</text>
<line x1="172.80" y1="300.35" x2="175.80" y2="300.35" stroke="#2a2a2a" stroke-width="1.0" />
<text x="170.00" y="303.25" font-size="8.2" text-anchor="end" textLength="13.35" lengthAdjust="spacingAndGlyphs" >100</text>
<line x1="182.90" y1="357.60" x2="182.90" y2="360.40" stroke="#2a2a2a" stroke-width="1.0" />
<text x="182.70" y="370.50" font-size="8.0" text-anchor="middle" textLength="4.10" lengthAdjust="spacingAndGlyphs" >0</text>
<text x="182.70" y="379.20" font-size="8.0" text-anchor="middle" textLength="4.10" lengthAdjust="spacingAndGlyphs" >0</text>
<line x1="198.60" y1="357.60" x2="198.60" y2="360.40" stroke="#2a2a2a" stroke-width="1.0" />
<text x="197.70" y="370.50" font-size="8.0" text-anchor="middle" textLength="14.30" lengthAdjust="spacingAndGlyphs" >6.25</text>
<text x="198.20" y="379.20" font-size="8.0" text-anchor="middle" textLength="10.20" lengthAdjust="spacingAndGlyphs" >2.5</text>
<line x1="213.90" y1="357.60" x2="213.90" y2="360.40" stroke="#2a2a2a" stroke-width="1.0" />
<text x="215.00" y="370.50" font-size="8.0" text-anchor="middle" textLength="14.30" lengthAdjust="spacingAndGlyphs" >12.5</text>
<text x="213.80" y="379.20" font-size="8.0" text-anchor="middle" textLength="4.10" lengthAdjust="spacingAndGlyphs" >5</text>
<line x1="229.10" y1="357.60" x2="229.10" y2="360.40" stroke="#2a2a2a" stroke-width="1.0" />
<text x="230.00" y="370.50" font-size="8.0" text-anchor="middle" textLength="8.20" lengthAdjust="spacingAndGlyphs" >25</text>
<text x="229.50" y="379.20" font-size="8.0" text-anchor="middle" textLength="8.20" lengthAdjust="spacingAndGlyphs" >10</text>
<line x1="244.30" y1="357.60" x2="244.30" y2="360.40" stroke="#2a2a2a" stroke-width="1.0" />
<text x="244.90" y="370.50" font-size="8.0" text-anchor="middle" textLength="8.20" lengthAdjust="spacingAndGlyphs" >50</text>
<text x="245.00" y="379.20" font-size="8.0" text-anchor="middle" textLength="8.20" lengthAdjust="spacingAndGlyphs" >20</text>
<text x="150.00" y="370.50" font-size="7.6" textLength="24.80" lengthAdjust="spacingAndGlyphs" >BZ (nM)</text>
<text x="143.10" y="379.20" font-size="7.6" textLength="31.70" lengthAdjust="spacingAndGlyphs" >HLM (μM)</text>
<text x="152.89" y="324.45" font-size="9.0" text-anchor="middle" textLength="71.70" lengthAdjust="spacingAndGlyphs" transform="rotate(-90 152.89 324.45)" >Specific apoptosis (%)</text>
<polyline points="182.90,281.20 190.60,281.20" fill="none" stroke="#d01f3c" stroke-width="1.2" stroke-linejoin="round" />
<circle cx="186.75" cy="281.20" r="1.7" fill="#d01f3c"/>
<text x="192.80" y="284.00" font-size="7.8" textLength="9.90" lengthAdjust="spacingAndGlyphs" >BZ</text>
<polyline points="182.90,288.95 190.60,288.95" fill="none" stroke="#1c4f8f" stroke-width="1.2" stroke-linejoin="round" />
<rect x="185.05" y="287.25" width="3.40" height="3.40" fill="#1c4f8f"/>
<text x="192.80" y="291.75" font-size="7.8" textLength="15.40" lengthAdjust="spacingAndGlyphs" >HLM</text>
<polyline points="182.90,296.70 190.60,296.70" fill="none" stroke="#3fbf3f" stroke-width="1.2" stroke-linejoin="round" />
<polygon points="186.75,294.49 184.71,298.06 188.79,298.06" fill="#3fbf3f"/>
<text x="192.80" y="299.50" font-size="7.8" textLength="33.40" lengthAdjust="spacingAndGlyphs" >BZ + HLM</text>
<polyline points="182.90,357.60 198.60,351.30 213.90,324.97 229.10,304.93 244.30,301.50" fill="none" stroke="#3fbf3f" stroke-width="1.15" stroke-linejoin="round" />
<polyline points="182.90,357.03 198.60,351.88 213.90,347.30 229.10,330.12 244.30,314.66" fill="none" stroke="#1c4f8f" stroke-width="1.15" stroke-linejoin="round" />
<polyline points="182.90,357.60 198.60,355.88 213.90,345.58 229.10,322.11 244.30,307.79" fill="none" stroke="#d01f3c" stroke-width="1.15" stroke-linejoin="round" />
<polygon points="182.90,355.65 181.10,358.80 184.70,358.80" fill="#3fbf3f"/>
<polygon points="198.60,349.35 196.80,352.50 200.40,352.50" fill="#3fbf3f"/>
<polygon points="213.90,323.02 212.10,326.17 215.70,326.17" fill="#3fbf3f"/>
<polygon points="229.10,302.98 227.30,306.13 230.90,306.13" fill="#3fbf3f"/>
<polygon points="244.30,299.55 242.50,302.69 246.10,302.69" fill="#3fbf3f"/>
<rect x="181.40" y="355.53" width="3.00" height="3.00" fill="#1c4f8f"/>
<rect x="197.10" y="350.38" width="3.00" height="3.00" fill="#1c4f8f"/>
<rect x="212.40" y="345.80" width="3.00" height="3.00" fill="#1c4f8f"/>
<rect x="227.60" y="328.62" width="3.00" height="3.00" fill="#1c4f8f"/>
<rect x="242.80" y="313.16" width="3.00" height="3.00" fill="#1c4f8f"/>
<circle cx="182.90" cy="357.60" r="1.5" fill="#d01f3c"/>
<circle cx="198.60" cy="355.88" r="1.5" fill="#d01f3c"/>
<circle cx="213.90" cy="345.58" r="1.5" fill="#d01f3c"/>
<circle cx="229.10" cy="322.11" r="1.5" fill="#d01f3c"/>
<circle cx="244.30" cy="307.79" r="1.5" fill="#d01f3c"/>
<text x="271.90" y="266.80" font-size="11.5" textLength="2.20" lengthAdjust="spacingAndGlyphs" fill="#000" font-weight="bold" >I</text>
<text x="310.30" y="270.20" font-size="8.3" textLength="62.40" lengthAdjust="spacingAndGlyphs" >L-CTCL/apoptosis</text>
<line x1="297.40" y1="299.60" x2="297.40" y2="358.10" stroke="#2a2a2a" stroke-width="1.1" />
<line x1="296.90" y1="357.60" x2="383.20" y2="357.60" stroke="#2a2a2a" stroke-width="1.2" />
<line x1="294.40" y1="357.60" x2="297.40" y2="357.60" stroke="#2a2a2a" stroke-width="1.0" />
<text x="291.60" y="360.50" font-size="8.2" text-anchor="end" textLength="4.45" lengthAdjust="spacingAndGlyphs" >0</text>
<line x1="294.40" y1="346.15" x2="297.40" y2="346.15" stroke="#2a2a2a" stroke-width="1.0" />
<text x="291.60" y="349.05" font-size="8.2" text-anchor="end" textLength="8.90" lengthAdjust="spacingAndGlyphs" >20</text>
<line x1="294.40" y1="334.70" x2="297.40" y2="334.70" stroke="#2a2a2a" stroke-width="1.0" />
<text x="291.60" y="337.60" font-size="8.2" text-anchor="end" textLength="8.90" lengthAdjust="spacingAndGlyphs" >40</text>
<line x1="294.40" y1="323.25" x2="297.40" y2="323.25" stroke="#2a2a2a" stroke-width="1.0" />
<text x="291.60" y="326.15" font-size="8.2" text-anchor="end" textLength="8.90" lengthAdjust="spacingAndGlyphs" >60</text>
<line x1="294.40" y1="311.80" x2="297.40" y2="311.80" stroke="#2a2a2a" stroke-width="1.0" />
<text x="291.60" y="314.70" font-size="8.2" text-anchor="end" textLength="8.90" lengthAdjust="spacingAndGlyphs" >80</text>
<line x1="294.40" y1="300.35" x2="297.40" y2="300.35" stroke="#2a2a2a" stroke-width="1.0" />
<text x="291.60" y="303.25" font-size="8.2" text-anchor="end" textLength="13.35" lengthAdjust="spacingAndGlyphs" >100</text>
<line x1="308.80" y1="357.60" x2="308.80" y2="360.40" stroke="#2a2a2a" stroke-width="1.0" />
<text x="308.50" y="370.50" font-size="8.0" text-anchor="middle" textLength="4.10" lengthAdjust="spacingAndGlyphs" >0</text>
<text x="308.50" y="379.20" font-size="8.0" text-anchor="middle" textLength="4.10" lengthAdjust="spacingAndGlyphs" >0</text>
<line x1="330.40" y1="357.60" x2="330.40" y2="360.40" stroke="#2a2a2a" stroke-width="1.0" />
<text x="331.00" y="370.50" font-size="8.0" text-anchor="middle" textLength="10.20" lengthAdjust="spacingAndGlyphs" >0.5</text>
<text x="331.00" y="379.20" font-size="8.0" text-anchor="middle" textLength="14.30" lengthAdjust="spacingAndGlyphs" >3.75</text>
<line x1="351.50" y1="357.60" x2="351.50" y2="360.40" stroke="#2a2a2a" stroke-width="1.0" />
<text x="351.80" y="370.50" font-size="8.0" text-anchor="middle" textLength="4.10" lengthAdjust="spacingAndGlyphs" >1</text>
<text x="351.80" y="379.20" font-size="8.0" text-anchor="middle" textLength="10.20" lengthAdjust="spacingAndGlyphs" >7.5</text>
<line x1="372.60" y1="357.60" x2="372.60" y2="360.40" stroke="#2a2a2a" stroke-width="1.0" />
<text x="373.00" y="370.50" font-size="8.0" text-anchor="middle" textLength="4.10" lengthAdjust="spacingAndGlyphs" >2</text>
<text x="373.00" y="379.20" font-size="8.0" text-anchor="middle" textLength="8.20" lengthAdjust="spacingAndGlyphs" >15</text>
<text x="263.80" y="370.50" font-size="7.6" textLength="35.10" lengthAdjust="spacingAndGlyphs" >SAHA (μM)</text>
<text x="267.20" y="379.20" font-size="7.6" textLength="31.70" lengthAdjust="spacingAndGlyphs" >HLM (μM)</text>
<text x="275.19" y="322.75" font-size="9.0" text-anchor="middle" textLength="69.90" lengthAdjust="spacingAndGlyphs" transform="rotate(-90 275.19 322.75)" >Specific apoptosis (%)</text>
<polyline points="308.30,281.20 316.00,281.20" fill="none" stroke="#d01f3c" stroke-width="1.2" stroke-linejoin="round" />
<circle cx="312.15" cy="281.20" r="1.7" fill="#d01f3c"/>
<text x="318.20" y="284.00" font-size="7.8" textLength="18.50" lengthAdjust="spacingAndGlyphs" >SAHA</text>
<polyline points="308.30,288.95 316.00,288.95" fill="none" stroke="#1c4f8f" stroke-width="1.2" stroke-linejoin="round" />
<rect x="310.45" y="287.25" width="3.40" height="3.40" fill="#1c4f8f"/>
<text x="318.20" y="291.75" font-size="7.8" textLength="16.50" lengthAdjust="spacingAndGlyphs" >HLM</text>
<polyline points="308.30,296.70 316.00,296.70" fill="none" stroke="#3fbf3f" stroke-width="1.2" stroke-linejoin="round" />
<polygon points="312.15,294.49 310.11,298.06 314.19,298.06" fill="#3fbf3f"/>
<text x="318.20" y="299.50" font-size="7.8" textLength="44.50" lengthAdjust="spacingAndGlyphs" >SAHA + HLM</text>
<polyline points="308.80,357.60 330.40,357.60 351.50,345.00 372.60,308.94" fill="none" stroke="#3fbf3f" stroke-width="1.15" stroke-linejoin="round" />
<polyline points="308.80,357.60 330.40,357.60 351.50,350.73 372.60,329.55" fill="none" stroke="#1c4f8f" stroke-width="1.15" stroke-linejoin="round" />
<polyline points="308.80,357.60 330.40,357.60 351.50,357.60 372.60,350.73" fill="none" stroke="#d01f3c" stroke-width="1.15" stroke-linejoin="round" />
<polygon points="308.80,355.65 307.00,358.80 310.60,358.80" fill="#3fbf3f"/>
<polygon points="330.40,355.65 328.60,358.80 332.20,358.80" fill="#3fbf3f"/>
<polygon points="351.50,343.06 349.70,346.20 353.30,346.20" fill="#3fbf3f"/>
<polygon points="372.60,306.99 370.80,310.14 374.40,310.14" fill="#3fbf3f"/>
<rect x="307.30" y="356.10" width="3.00" height="3.00" fill="#1c4f8f"/>
<rect x="328.90" y="356.10" width="3.00" height="3.00" fill="#1c4f8f"/>
<rect x="350.00" y="349.23" width="3.00" height="3.00" fill="#1c4f8f"/>
<rect x="371.10" y="328.05" width="3.00" height="3.00" fill="#1c4f8f"/>
<circle cx="308.80" cy="357.60" r="1.5" fill="#d01f3c"/>
<circle cx="330.40" cy="357.60" r="1.5" fill="#d01f3c"/>
<circle cx="351.50" cy="357.60" r="1.5" fill="#d01f3c"/>
<circle cx="372.60" cy="350.73" r="1.5" fill="#d01f3c"/>
<text x="396.10" y="266.80" font-size="11.5" textLength="6.00" lengthAdjust="spacingAndGlyphs" fill="#000" font-weight="bold" >J</text>
<text x="431.30" y="270.20" font-size="8.3" textLength="63.10" lengthAdjust="spacingAndGlyphs" >L-CTCL/apoptosis</text>
<line x1="425.60" y1="299.60" x2="425.60" y2="358.10" stroke="#2a2a2a" stroke-width="1.1" />
<line x1="425.10" y1="357.60" x2="504.40" y2="357.60" stroke="#2a2a2a" stroke-width="1.2" />
<line x1="422.60" y1="357.60" x2="425.60" y2="357.60" stroke="#2a2a2a" stroke-width="1.0" />
<text x="419.80" y="360.50" font-size="8.2" text-anchor="end" textLength="4.45" lengthAdjust="spacingAndGlyphs" >0</text>
<line x1="422.60" y1="346.15" x2="425.60" y2="346.15" stroke="#2a2a2a" stroke-width="1.0" />
<text x="419.80" y="349.05" font-size="8.2" text-anchor="end" textLength="8.90" lengthAdjust="spacingAndGlyphs" >20</text>
<line x1="422.60" y1="334.70" x2="425.60" y2="334.70" stroke="#2a2a2a" stroke-width="1.0" />
<text x="419.80" y="337.60" font-size="8.2" text-anchor="end" textLength="8.90" lengthAdjust="spacingAndGlyphs" >40</text>
<line x1="422.60" y1="323.25" x2="425.60" y2="323.25" stroke="#2a2a2a" stroke-width="1.0" />
<text x="419.80" y="326.15" font-size="8.2" text-anchor="end" textLength="8.90" lengthAdjust="spacingAndGlyphs" >60</text>
<line x1="422.60" y1="311.80" x2="425.60" y2="311.80" stroke="#2a2a2a" stroke-width="1.0" />
<text x="419.80" y="314.70" font-size="8.2" text-anchor="end" textLength="8.90" lengthAdjust="spacingAndGlyphs" >80</text>
<line x1="422.60" y1="300.35" x2="425.60" y2="300.35" stroke="#2a2a2a" stroke-width="1.0" />
<text x="419.80" y="303.25" font-size="8.2" text-anchor="end" textLength="13.35" lengthAdjust="spacingAndGlyphs" >100</text>
<line x1="435.50" y1="357.60" x2="435.50" y2="360.40" stroke="#2a2a2a" stroke-width="1.0" />
<text x="435.40" y="370.50" font-size="8.0" text-anchor="middle" textLength="4.10" lengthAdjust="spacingAndGlyphs" >0</text>
<text x="435.40" y="379.20" font-size="8.0" text-anchor="middle" textLength="4.10" lengthAdjust="spacingAndGlyphs" >0</text>
<line x1="455.30" y1="357.60" x2="455.30" y2="360.40" stroke="#2a2a2a" stroke-width="1.0" />
<text x="454.50" y="370.50" font-size="8.0" text-anchor="middle" textLength="14.30" lengthAdjust="spacingAndGlyphs" >6.25</text>
<text x="454.50" y="379.20" font-size="8.0" text-anchor="middle" textLength="10.20" lengthAdjust="spacingAndGlyphs" >2.5</text>
<line x1="475.10" y1="357.60" x2="475.10" y2="360.40" stroke="#2a2a2a" stroke-width="1.0" />
<text x="474.60" y="370.50" font-size="8.0" text-anchor="middle" textLength="14.30" lengthAdjust="spacingAndGlyphs" >12.5</text>
<text x="474.60" y="379.20" font-size="8.0" text-anchor="middle" textLength="4.10" lengthAdjust="spacingAndGlyphs" >5</text>
<line x1="494.60" y1="357.60" x2="494.60" y2="360.40" stroke="#2a2a2a" stroke-width="1.0" />
<text x="494.70" y="370.50" font-size="8.0" text-anchor="middle" textLength="8.20" lengthAdjust="spacingAndGlyphs" >25</text>
<text x="494.70" y="379.20" font-size="8.0" text-anchor="middle" textLength="8.20" lengthAdjust="spacingAndGlyphs" >10</text>
<text x="405.70" y="370.50" font-size="7.6" textLength="21.30" lengthAdjust="spacingAndGlyphs" >BZ (nM)</text>
<text x="395.80" y="379.20" font-size="7.6" textLength="31.20" lengthAdjust="spacingAndGlyphs" >HLM (μM)</text>
<text x="405.19" y="322.30" font-size="9.0" text-anchor="middle" textLength="70.80" lengthAdjust="spacingAndGlyphs" transform="rotate(-90 405.19 322.30)" >Specific apoptosis (%)</text>
<polyline points="432.70,281.20 440.40,281.20" fill="none" stroke="#d01f3c" stroke-width="1.2" stroke-linejoin="round" />
<circle cx="436.55" cy="281.20" r="1.7" fill="#d01f3c"/>
<text x="442.60" y="284.00" font-size="7.8" textLength="9.10" lengthAdjust="spacingAndGlyphs" >BZ</text>
<polyline points="432.70,288.95 440.40,288.95" fill="none" stroke="#1c4f8f" stroke-width="1.2" stroke-linejoin="round" />
<rect x="434.85" y="287.25" width="3.40" height="3.40" fill="#1c4f8f"/>
<text x="442.60" y="291.75" font-size="7.8" textLength="14.60" lengthAdjust="spacingAndGlyphs" >HLM</text>
<polyline points="432.70,296.70 440.40,296.70" fill="none" stroke="#3fbf3f" stroke-width="1.2" stroke-linejoin="round" />
<polygon points="436.55,294.49 434.51,298.06 438.59,298.06" fill="#3fbf3f"/>
<text x="442.60" y="299.50" font-size="7.8" textLength="32.60" lengthAdjust="spacingAndGlyphs" >BZ + HLM</text>
<polyline points="435.50,357.60 455.30,324.40 475.10,309.22 494.60,309.51" fill="none" stroke="#3fbf3f" stroke-width="1.15" stroke-linejoin="round" />
<polyline points="435.50,357.60 455.30,357.03 475.10,355.60 494.60,342.72" fill="none" stroke="#d01f3c" stroke-width="1.15" stroke-linejoin="round" />
<polyline points="435.50,357.60 455.30,336.42 475.10,329.26 494.60,329.83" fill="none" stroke="#1c4f8f" stroke-width="1.15" stroke-linejoin="round" />
<polygon points="435.50,355.65 433.70,358.80 437.30,358.80" fill="#3fbf3f"/>
<polygon points="455.30,322.45 453.50,325.60 457.10,325.60" fill="#3fbf3f"/>
<polygon points="475.10,307.27 473.30,310.42 476.90,310.42" fill="#3fbf3f"/>
<polygon points="494.60,307.56 492.80,310.71 496.40,310.71" fill="#3fbf3f"/>
<rect x="434.00" y="356.10" width="3.00" height="3.00" fill="#1c4f8f"/>
<rect x="453.80" y="355.53" width="3.00" height="3.00" fill="#1c4f8f"/>
<rect x="473.60" y="354.10" width="3.00" height="3.00" fill="#1c4f8f"/>
<rect x="493.10" y="341.22" width="3.00" height="3.00" fill="#1c4f8f"/>
<circle cx="435.50" cy="357.60" r="1.5" fill="#d01f3c"/>
<circle cx="455.30" cy="336.42" r="1.5" fill="#d01f3c"/>
<circle cx="475.10" cy="329.26" r="1.5" fill="#d01f3c"/>
<circle cx="494.60" cy="329.83" r="1.5" fill="#d01f3c"/>
<text x="44.50" y="400.60" font-size="8.0" textLength="79.40" lengthAdjust="spacingAndGlyphs" >HH/combination index</text>
<line x1="45.70" y1="417.60" x2="45.70" y2="480.80" stroke="#2a2a2a" stroke-width="1.1" />
<line x1="45.20" y1="480.30" x2="123.20" y2="480.30" stroke="#2a2a2a" stroke-width="1.2" />
<line x1="42.70" y1="480.30" x2="45.70" y2="480.30" stroke="#2a2a2a" stroke-width="1.0" />
<text x="41.20" y="483.10" font-size="8.2" text-anchor="end" textLength="4.30" lengthAdjust="spacingAndGlyphs" >0</text>
<line x1="42.70" y1="449.20" x2="45.70" y2="449.20" stroke="#2a2a2a" stroke-width="1.0" />
<text x="41.20" y="452.00" font-size="8.2" text-anchor="end" textLength="4.30" lengthAdjust="spacingAndGlyphs" >1</text>
<line x1="42.70" y1="418.10" x2="45.70" y2="418.10" stroke="#2a2a2a" stroke-width="1.0" />
<text x="41.20" y="420.90" font-size="8.2" text-anchor="end" textLength="4.30" lengthAdjust="spacingAndGlyphs" >2</text>
<line x1="43.20" y1="464.75" x2="45.70" y2="464.75" stroke="#2a2a2a" stroke-width="0.9" />
<line x1="43.20" y1="433.65" x2="45.70" y2="433.65" stroke="#2a2a2a" stroke-width="0.9" />
<line x1="45.70" y1="480.30" x2="45.70" y2="483.30" stroke="#2a2a2a" stroke-width="0.9" />
<line x1="53.19" y1="480.30" x2="53.19" y2="482.80" stroke="#2a2a2a" stroke-width="0.9" />
<line x1="60.68" y1="480.30" x2="60.68" y2="482.80" stroke="#2a2a2a" stroke-width="0.9" />
<line x1="68.17" y1="480.30" x2="68.17" y2="482.80" stroke="#2a2a2a" stroke-width="0.9" />
<line x1="75.66" y1="480.30" x2="75.66" y2="482.80" stroke="#2a2a2a" stroke-width="0.9" />
<line x1="83.15" y1="480.30" x2="83.15" y2="483.30" stroke="#2a2a2a" stroke-width="0.9" />
<line x1="90.64" y1="480.30" x2="90.64" y2="482.80" stroke="#2a2a2a" stroke-width="0.9" />
<line x1="98.13" y1="480.30" x2="98.13" y2="482.80" stroke="#2a2a2a" stroke-width="0.9" />
<line x1="105.62" y1="480.30" x2="105.62" y2="482.80" stroke="#2a2a2a" stroke-width="0.9" />
<line x1="113.11" y1="480.30" x2="113.11" y2="482.80" stroke="#2a2a2a" stroke-width="0.9" />
<line x1="120.60" y1="480.30" x2="120.60" y2="483.30" stroke="#2a2a2a" stroke-width="0.9" />
<text x="45.70" y="492.30" font-size="8.2" text-anchor="middle" textLength="4.30" lengthAdjust="spacingAndGlyphs" >0</text>
<text x="83.15" y="492.30" font-size="8.2" text-anchor="middle" textLength="10.60" lengthAdjust="spacingAndGlyphs" >0.5</text>
<text x="120.60" y="492.30" font-size="8.2" text-anchor="middle" textLength="4.30" lengthAdjust="spacingAndGlyphs" >1</text>
<text x="51.10" y="505.60" font-size="8.8" textLength="68.00" lengthAdjust="spacingAndGlyphs" >Fraction affected (Fa)</text>
<text x="30.79" y="449.25" font-size="9.0" text-anchor="middle" textLength="76.90" lengthAdjust="spacingAndGlyphs" transform="rotate(-90 30.79 449.25)" >Combination index (CI)</text>
<line x1="45.70" y1="449.20" x2="120.60" y2="449.20" stroke="#a8a8a8" stroke-width="0.9" />
<path d="M 48.80 431.90 C 49.70 432.67 52.27 435.13 54.20 436.50 C 56.13 437.87 56.80 438.82 60.40 440.10 C 64.00 441.38 70.67 442.92 75.80 444.20 C 80.93 445.48 87.10 446.82 91.20 447.80 C 95.30 448.78 97.33 449.28 100.40 450.10 C 103.47 450.92 107.25 451.92 109.60 452.70 C 111.95 453.48 113.02 454.03 114.50 454.80 C 115.98 455.57 117.83 456.88 118.50 457.30" fill="none" stroke="#c41f3b" stroke-width="1.3"/>
<circle cx="60.40" cy="436.10" r="1.5" fill="#f2c4cc" stroke="#e2798b" stroke-width="1.0"/>
<circle cx="100.70" cy="451.90" r="1.5" fill="#f2c4cc" stroke="#e2798b" stroke-width="1.0"/>
<circle cx="119.60" cy="455.80" r="1.5" fill="#f2c4cc" stroke="#e2798b" stroke-width="1.0"/>
<circle cx="117.30" cy="461.50" r="1.5" fill="#f2c4cc" stroke="#e2798b" stroke-width="1.0"/>
<circle cx="89.00" cy="419.2" r="1.5" fill="#f2c4cc" stroke="#e2798b" stroke-width="1.0"/>
<text x="92.60" y="422.30" font-size="7.8" textLength="44.80" lengthAdjust="spacingAndGlyphs" >SAHA + HLM</text>
<text x="71.10" y="440.20" font-size="7.2" textLength="69.10" lengthAdjust="spacingAndGlyphs" >CI (Fa = 0.9) = 0.85012</text>
<text x="176.00" y="400.60" font-size="8.0" textLength="79.40" lengthAdjust="spacingAndGlyphs" >HH/combination index</text>
<line x1="176.50" y1="417.60" x2="176.50" y2="480.80" stroke="#2a2a2a" stroke-width="1.1" />
<line x1="176.00" y1="480.30" x2="252.00" y2="480.30" stroke="#2a2a2a" stroke-width="1.2" />
<line x1="173.50" y1="480.30" x2="176.50" y2="480.30" stroke="#2a2a2a" stroke-width="1.0" />
<text x="172.00" y="483.10" font-size="8.2" text-anchor="end" textLength="4.30" lengthAdjust="spacingAndGlyphs" >0</text>
<line x1="173.50" y1="449.20" x2="176.50" y2="449.20" stroke="#2a2a2a" stroke-width="1.0" />
<text x="172.00" y="452.00" font-size="8.2" text-anchor="end" textLength="4.30" lengthAdjust="spacingAndGlyphs" >1</text>
<line x1="173.50" y1="418.10" x2="176.50" y2="418.10" stroke="#2a2a2a" stroke-width="1.0" />
<text x="172.00" y="420.90" font-size="8.2" text-anchor="end" textLength="4.30" lengthAdjust="spacingAndGlyphs" >2</text>
<line x1="174.00" y1="464.75" x2="176.50" y2="464.75" stroke="#2a2a2a" stroke-width="0.9" />
<line x1="174.00" y1="433.65" x2="176.50" y2="433.65" stroke="#2a2a2a" stroke-width="0.9" />
<line x1="176.50" y1="480.30" x2="176.50" y2="483.30" stroke="#2a2a2a" stroke-width="0.9" />
<line x1="183.99" y1="480.30" x2="183.99" y2="482.80" stroke="#2a2a2a" stroke-width="0.9" />
<line x1="191.48" y1="480.30" x2="191.48" y2="482.80" stroke="#2a2a2a" stroke-width="0.9" />
<line x1="198.97" y1="480.30" x2="198.97" y2="482.80" stroke="#2a2a2a" stroke-width="0.9" />
<line x1="206.46" y1="480.30" x2="206.46" y2="482.80" stroke="#2a2a2a" stroke-width="0.9" />
<line x1="213.95" y1="480.30" x2="213.95" y2="483.30" stroke="#2a2a2a" stroke-width="0.9" />
<line x1="221.44" y1="480.30" x2="221.44" y2="482.80" stroke="#2a2a2a" stroke-width="0.9" />
<line x1="228.93" y1="480.30" x2="228.93" y2="482.80" stroke="#2a2a2a" stroke-width="0.9" />
<line x1="236.42" y1="480.30" x2="236.42" y2="482.80" stroke="#2a2a2a" stroke-width="0.9" />
<line x1="243.91" y1="480.30" x2="243.91" y2="482.80" stroke="#2a2a2a" stroke-width="0.9" />
<line x1="251.40" y1="480.30" x2="251.40" y2="483.30" stroke="#2a2a2a" stroke-width="0.9" />
<text x="176.50" y="492.30" font-size="8.2" text-anchor="middle" textLength="4.30" lengthAdjust="spacingAndGlyphs" >0</text>
<text x="213.95" y="492.30" font-size="8.2" text-anchor="middle" textLength="10.60" lengthAdjust="spacingAndGlyphs" >0.5</text>
<text x="251.40" y="492.30" font-size="8.2" text-anchor="middle" textLength="4.30" lengthAdjust="spacingAndGlyphs" >1</text>
<text x="181.10" y="505.60" font-size="8.8" textLength="68.00" lengthAdjust="spacingAndGlyphs" >Fraction affected (Fa)</text>
<text x="161.29" y="449.25" font-size="9.0" text-anchor="middle" textLength="76.90" lengthAdjust="spacingAndGlyphs" transform="rotate(-90 161.29 449.25)" >Combination index (CI)</text>
<line x1="176.50" y1="449.20" x2="251.40" y2="449.20" stroke="#a8a8a8" stroke-width="0.9" />
<path d="M 179.60 429.50 C 179.98 430.22 180.87 432.30 181.90 433.80 C 182.93 435.30 183.87 436.83 185.80 438.50 C 187.73 440.17 190.17 442.27 193.50 443.80 C 196.83 445.33 201.70 446.42 205.80 447.70 C 209.90 448.98 213.48 450.08 218.10 451.50 C 222.72 452.92 229.40 454.92 233.50 456.20 C 237.60 457.48 239.88 458.00 242.70 459.20 C 245.52 460.40 249.12 462.70 250.40 463.40" fill="none" stroke="#c41f3b" stroke-width="1.3"/>
<circle cx="184.50" cy="435.40" r="1.5" fill="#f2c4cc" stroke="#e2798b" stroke-width="1.0"/>
<circle cx="219.60" cy="453.10" r="1.5" fill="#f2c4cc" stroke="#e2798b" stroke-width="1.0"/>
<circle cx="245.00" cy="460.80" r="1.5" fill="#f2c4cc" stroke="#e2798b" stroke-width="1.0"/>
<circle cx="250.40" cy="464.20" r="1.5" fill="#f2c4cc" stroke="#e2798b" stroke-width="1.0"/>
<circle cx="229.00" cy="419.2" r="1.5" fill="#f2c4cc" stroke="#e2798b" stroke-width="1.0"/>
<text x="234.10" y="422.30" font-size="7.8" textLength="32.90" lengthAdjust="spacingAndGlyphs" >BZ + HLM</text>
<text x="195.10" y="438.70" font-size="7.2" textLength="71.10" lengthAdjust="spacingAndGlyphs" >CI (Fa = 0.9) = 0.69965</text>
<text x="287.00" y="400.60" font-size="8.0" textLength="94.60" lengthAdjust="spacingAndGlyphs" >L-CTCL/combination index</text>
<line x1="298.10" y1="417.60" x2="298.10" y2="480.80" stroke="#2a2a2a" stroke-width="1.1" />
<line x1="297.60" y1="480.30" x2="372.00" y2="480.30" stroke="#2a2a2a" stroke-width="1.2" />
<line x1="295.10" y1="480.30" x2="298.10" y2="480.30" stroke="#2a2a2a" stroke-width="1.0" />
<text x="293.60" y="483.10" font-size="8.2" text-anchor="end" textLength="4.30" lengthAdjust="spacingAndGlyphs" >0</text>
<line x1="295.10" y1="449.20" x2="298.10" y2="449.20" stroke="#2a2a2a" stroke-width="1.0" />
<text x="293.60" y="452.00" font-size="8.2" text-anchor="end" textLength="4.30" lengthAdjust="spacingAndGlyphs" >1</text>
<line x1="295.10" y1="418.10" x2="298.10" y2="418.10" stroke="#2a2a2a" stroke-width="1.0" />
<text x="293.60" y="420.90" font-size="8.2" text-anchor="end" textLength="4.30" lengthAdjust="spacingAndGlyphs" >2</text>
<line x1="295.60" y1="464.75" x2="298.10" y2="464.75" stroke="#2a2a2a" stroke-width="0.9" />
<line x1="295.60" y1="433.65" x2="298.10" y2="433.65" stroke="#2a2a2a" stroke-width="0.9" />
<line x1="298.10" y1="480.30" x2="298.10" y2="483.30" stroke="#2a2a2a" stroke-width="0.9" />
<line x1="305.46" y1="480.30" x2="305.46" y2="482.80" stroke="#2a2a2a" stroke-width="0.9" />
<line x1="312.82" y1="480.30" x2="312.82" y2="482.80" stroke="#2a2a2a" stroke-width="0.9" />
<line x1="320.18" y1="480.30" x2="320.18" y2="482.80" stroke="#2a2a2a" stroke-width="0.9" />
<line x1="327.54" y1="480.30" x2="327.54" y2="482.80" stroke="#2a2a2a" stroke-width="0.9" />
<line x1="334.90" y1="480.30" x2="334.90" y2="483.30" stroke="#2a2a2a" stroke-width="0.9" />
<line x1="342.26" y1="480.30" x2="342.26" y2="482.80" stroke="#2a2a2a" stroke-width="0.9" />
<line x1="349.62" y1="480.30" x2="349.62" y2="482.80" stroke="#2a2a2a" stroke-width="0.9" />
<line x1="356.98" y1="480.30" x2="356.98" y2="482.80" stroke="#2a2a2a" stroke-width="0.9" />
<line x1="364.34" y1="480.30" x2="364.34" y2="482.80" stroke="#2a2a2a" stroke-width="0.9" />
<line x1="371.70" y1="480.30" x2="371.70" y2="483.30" stroke="#2a2a2a" stroke-width="0.9" />
<text x="298.10" y="492.30" font-size="8.2" text-anchor="middle" textLength="4.30" lengthAdjust="spacingAndGlyphs" >0</text>
<text x="334.90" y="492.30" font-size="8.2" text-anchor="middle" textLength="10.60" lengthAdjust="spacingAndGlyphs" >0.5</text>
<text x="371.70" y="492.30" font-size="8.2" text-anchor="middle" textLength="4.30" lengthAdjust="spacingAndGlyphs" >1</text>
<text x="302.20" y="505.60" font-size="8.8" textLength="69.20" lengthAdjust="spacingAndGlyphs" >Fraction affected (Fa)</text>
<text x="282.79" y="449.25" font-size="9.0" text-anchor="middle" textLength="76.90" lengthAdjust="spacingAndGlyphs" transform="rotate(-90 282.79 449.25)" >Combination index (CI)</text>
<line x1="298.10" y1="449.20" x2="371.70" y2="449.20" stroke="#a8a8a8" stroke-width="0.9" />
<path d="M 301.20 418.90 C 301.70 419.80 302.93 422.37 304.20 424.30 C 305.47 426.23 306.75 428.32 308.80 430.50 C 310.85 432.68 313.67 435.62 316.50 437.40 C 319.33 439.18 322.20 440.00 325.80 441.20 C 329.40 442.40 334.00 443.43 338.10 444.60 C 342.20 445.77 346.82 447.10 350.40 448.20 C 353.98 449.30 357.03 450.05 359.60 451.20 C 362.17 452.35 364.00 453.82 365.80 455.10 C 367.60 456.38 369.63 458.27 370.40 458.90" fill="none" stroke="#c41f3b" stroke-width="1.3"/>
<circle cx="314.20" cy="444.80" r="1.5" fill="#f2c4cc" stroke="#e2798b" stroke-width="1.0"/>
<circle cx="360.80" cy="448.90" r="1.5" fill="#f2c4cc" stroke="#e2798b" stroke-width="1.0"/>
<circle cx="345.10" cy="419.2" r="1.5" fill="#f2c4cc" stroke="#e2798b" stroke-width="1.0"/>
<text x="349.70" y="422.30" font-size="7.8" textLength="44.10" lengthAdjust="spacingAndGlyphs" >SAHA + HLM</text>
<text x="325.10" y="439.60" font-size="7.2" textLength="70.60" lengthAdjust="spacingAndGlyphs" >CI (Fa = 0.9) = 0.82522</text>
<text x="411.50" y="400.60" font-size="8.0" textLength="94.60" lengthAdjust="spacingAndGlyphs" >L-CTCL/combination index</text>
<line x1="425.60" y1="417.60" x2="425.60" y2="480.80" stroke="#2a2a2a" stroke-width="1.1" />
<line x1="425.10" y1="480.30" x2="505.00" y2="480.30" stroke="#2a2a2a" stroke-width="1.2" />
<line x1="422.60" y1="480.30" x2="425.60" y2="480.30" stroke="#2a2a2a" stroke-width="1.0" />
<text x="421.10" y="483.10" font-size="8.2" text-anchor="end" textLength="4.30" lengthAdjust="spacingAndGlyphs" >0</text>
<line x1="422.60" y1="449.20" x2="425.60" y2="449.20" stroke="#2a2a2a" stroke-width="1.0" />
<text x="421.10" y="452.00" font-size="8.2" text-anchor="end" textLength="4.30" lengthAdjust="spacingAndGlyphs" >1</text>
<line x1="422.60" y1="418.10" x2="425.60" y2="418.10" stroke="#2a2a2a" stroke-width="1.0" />
<text x="421.10" y="420.90" font-size="8.2" text-anchor="end" textLength="4.30" lengthAdjust="spacingAndGlyphs" >2</text>
<line x1="423.10" y1="464.75" x2="425.60" y2="464.75" stroke="#2a2a2a" stroke-width="0.9" />
<line x1="423.10" y1="433.65" x2="425.60" y2="433.65" stroke="#2a2a2a" stroke-width="0.9" />
<line x1="425.60" y1="480.30" x2="425.60" y2="483.30" stroke="#2a2a2a" stroke-width="0.9" />
<line x1="433.09" y1="480.30" x2="433.09" y2="482.80" stroke="#2a2a2a" stroke-width="0.9" />
<line x1="440.58" y1="480.30" x2="440.58" y2="482.80" stroke="#2a2a2a" stroke-width="0.9" />
<line x1="448.07" y1="480.30" x2="448.07" y2="482.80" stroke="#2a2a2a" stroke-width="0.9" />
<line x1="455.56" y1="480.30" x2="455.56" y2="482.80" stroke="#2a2a2a" stroke-width="0.9" />
<line x1="463.05" y1="480.30" x2="463.05" y2="483.30" stroke="#2a2a2a" stroke-width="0.9" />
<line x1="470.54" y1="480.30" x2="470.54" y2="482.80" stroke="#2a2a2a" stroke-width="0.9" />
<line x1="478.03" y1="480.30" x2="478.03" y2="482.80" stroke="#2a2a2a" stroke-width="0.9" />
<line x1="485.52" y1="480.30" x2="485.52" y2="482.80" stroke="#2a2a2a" stroke-width="0.9" />
<line x1="493.01" y1="480.30" x2="493.01" y2="482.80" stroke="#2a2a2a" stroke-width="0.9" />
<line x1="500.50" y1="480.30" x2="500.50" y2="483.30" stroke="#2a2a2a" stroke-width="0.9" />
<text x="425.60" y="492.30" font-size="8.2" text-anchor="middle" textLength="4.30" lengthAdjust="spacingAndGlyphs" >0</text>
<text x="463.05" y="492.30" font-size="8.2" text-anchor="middle" textLength="10.60" lengthAdjust="spacingAndGlyphs" >0.5</text>
<text x="500.50" y="492.30" font-size="8.2" text-anchor="middle" textLength="4.30" lengthAdjust="spacingAndGlyphs" >1</text>
<text x="431.00" y="505.60" font-size="8.8" textLength="65.40" lengthAdjust="spacingAndGlyphs" >Fraction affected (Fa)</text>
<text x="410.29" y="449.25" font-size="9.0" text-anchor="middle" textLength="76.90" lengthAdjust="spacingAndGlyphs" transform="rotate(-90 410.29 449.25)" >Combination index (CI)</text>
<line x1="425.60" y1="449.20" x2="500.50" y2="449.20" stroke="#a8a8a8" stroke-width="0.9" />
<path d="M 441.20 418.20 C 441.58 420.75 442.62 428.38 443.50 433.50 C 444.38 438.62 445.22 444.53 446.50 448.90 C 447.78 453.27 449.15 456.37 451.20 459.70 C 453.25 463.03 455.47 466.38 458.80 468.90 C 462.13 471.42 467.08 473.90 471.20 474.80 C 475.32 475.70 479.92 474.90 483.50 474.30 C 487.08 473.70 490.40 472.62 492.70 471.20 C 495.00 469.78 496.22 468.23 497.30 465.80 C 498.38 463.37 498.88 458.13 499.20 456.60" fill="none" stroke="#c41f3b" stroke-width="1.3"/>
<circle cx="469.30" cy="472.80" r="1.5" fill="#f2c4cc" stroke="#e2798b" stroke-width="1.0"/>
<circle cx="488.40" cy="470.50" r="1.5" fill="#f2c4cc" stroke="#e2798b" stroke-width="1.0"/>
<circle cx="489.30" cy="475.80" r="1.5" fill="#f2c4cc" stroke="#e2798b" stroke-width="1.0"/>
<circle cx="477.70" cy="419.2" r="1.5" fill="#f2c4cc" stroke="#e2798b" stroke-width="1.0"/>
<text x="481.80" y="422.30" font-size="7.8" textLength="32.50" lengthAdjust="spacingAndGlyphs" >BZ + HLM</text>
<text x="446.30" y="439.40" font-size="7.2" textLength="69.40" lengthAdjust="spacingAndGlyphs" >CI (Fa = 0.9) = 0.31918</text>
<rect x="0.6" y="0.6" width="518.8" height="510.8" fill="none" stroke="#111" stroke-width="1.3"/>
</svg></body></html>
